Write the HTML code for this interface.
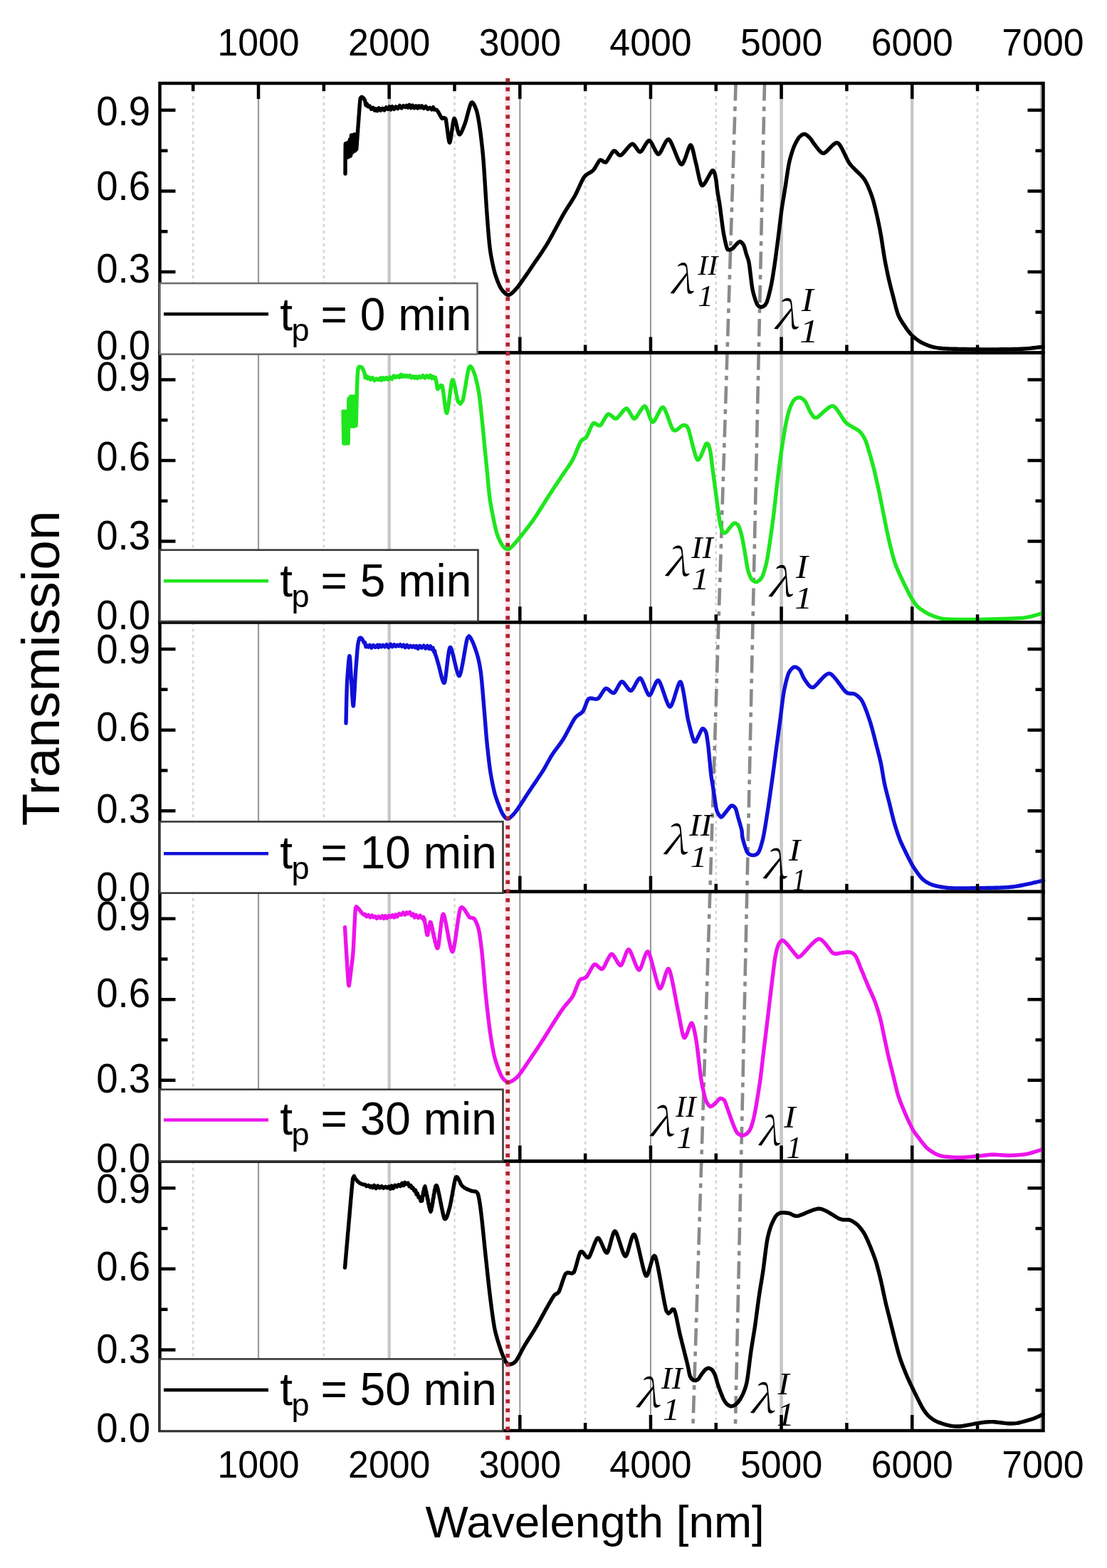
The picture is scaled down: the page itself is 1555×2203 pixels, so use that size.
<!DOCTYPE html>
<html><head><meta charset="utf-8"><title>Transmission spectra</title>
<style>html,body{margin:0;padding:0;background:#fff;}svg{display:block;}</style></head>
<body><svg xmlns="http://www.w3.org/2000/svg" width="1555" height="2203" viewBox="0 0 1555 2203">
<rect width="1555" height="2203" fill="#fff"/>
<line x1="713.2" y1="109" x2="713.2" y2="2024" stroke="#ffe6ea" stroke-width="8.5"/>
<path d="M271.22,117V495.6M454.86,117V495.6M638.5,117V495.6M822.14,117V495.6M1005.78,117V495.6M1189.42,117V495.6M1373.06,117V495.6M271.22,495.6V874.2M454.86,495.6V874.2M638.5,495.6V874.2M822.14,495.6V874.2M1005.78,495.6V874.2M1189.42,495.6V874.2M1373.06,495.6V874.2M271.22,874.2V1252.8M454.86,874.2V1252.8M638.5,874.2V1252.8M822.14,874.2V1252.8M1005.78,874.2V1252.8M1189.42,874.2V1252.8M1373.06,874.2V1252.8M271.22,1252.8V1631.4M454.86,1252.8V1631.4M638.5,1252.8V1631.4M822.14,1252.8V1631.4M1005.78,1252.8V1631.4M1189.42,1252.8V1631.4M1373.06,1252.8V1631.4M271.22,1631.4V2010M454.86,1631.4V2010M638.5,1631.4V2010M822.14,1631.4V2010M1005.78,1631.4V2010M1189.42,1631.4V2010M1373.06,1631.4V2010" stroke="#d4d4d4" stroke-width="2.6" stroke-dasharray="4 5" fill="none"/>
<line x1="363.04" y1="117.0" x2="363.04" y2="2010" stroke="#9a9a9a" stroke-width="2.2"/>
<line x1="546.68" y1="117.0" x2="546.68" y2="2010" stroke="#c6c6c6" stroke-width="4.2"/>
<line x1="730.32" y1="117.0" x2="730.32" y2="2010" stroke="#969696" stroke-width="2.0"/>
<line x1="913.96" y1="117.0" x2="913.96" y2="2010" stroke="#969696" stroke-width="2.0"/>
<line x1="1097.6" y1="117.0" x2="1097.6" y2="2010" stroke="#c6c6c6" stroke-width="4.5"/>
<line x1="1281.24" y1="117.0" x2="1281.24" y2="2010" stroke="#c6c6c6" stroke-width="4.2"/>
<line x1="1462.4" y1="117.0" x2="1462.4" y2="2010" stroke="#b8b8b8" stroke-width="3.0"/>
<line x1="1033.6" y1="117.0" x2="973.2" y2="2010" stroke="#8a8a8a" stroke-width="4.6" stroke-dasharray="24.5 8.2 6.4 8.2"/>
<line x1="1074.0" y1="117.0" x2="1032.8" y2="2010" stroke="#8a8a8a" stroke-width="4.6" stroke-dasharray="24.5 8.2 6.4 8.2"/>
<path d="M485,244 485.01,242.89 485.01,241.38 485.02,239.51 485.03,237.33 485.04,234.89 485.05,232.25 485.06,229.45 485.07,226.55 485.08,223.59 485.1,220.62 485.11,217.7 485.13,214.87 485.15,212.19 485.17,209.71 485.19,207.47 485.22,205.53 485.24,203.94 485.27,202.75 485.3,202 485.4,201.86 485.53,203.48 485.69,206.32 485.87,209.85 486.04,213.52 486.22,216.79 486.37,219.13 486.5,220 486.62,219.14 486.74,216.96 486.88,213.89 487.01,210.4 487.14,206.92 487.27,203.89 487.39,201.77 487.5,201 487.6,201.73 487.7,203.59 487.82,206.27 487.94,209.44 488.06,212.76 488.18,215.9 488.3,218.55 488.4,220.35 488.5,221 488.6,220.25 488.7,218.31 488.82,215.53 488.94,212.23 489.06,208.77 489.18,205.47 489.3,202.69 489.4,200.75 489.5,200 489.6,200.67 489.7,202.53 489.82,205.24 489.94,208.46 490.06,211.84 490.18,215.02 490.3,217.68 490.4,219.45 490.5,220 490.59,219.2 490.68,217.31 490.78,214.61 490.89,211.36 491,207.85 491.11,204.35 491.22,201.14 491.32,198.5 491.41,196.69 491.5,196 491.59,196.63 491.68,198.42 491.78,201.06 491.89,204.27 492,207.75 492.11,211.21 492.22,214.36 492.32,216.9 492.41,218.55 492.5,219 492.56,218.36 492.64,216.92 492.71,214.82 492.79,212.2 492.87,209.23 492.96,206.03 493.04,202.77 493.13,199.58 493.21,196.63 493.29,194.04 493.36,191.98 493.44,190.58 493.5,190 493.58,190.46 493.66,191.98 493.75,194.33 493.85,197.28 493.95,200.58 494.05,204.02 494.15,207.35 494.25,210.35 494.34,212.78 494.42,214.41 494.5,215 494.58,214.42 494.66,212.84 494.75,210.48 494.85,207.55 494.95,204.29 495.05,200.91 495.15,197.63 495.25,194.68 495.34,192.28 495.42,190.64 495.5,190 495.59,190.58 495.68,192.3 495.78,194.88 495.89,198.02 496,201.45 496.11,204.88 496.22,208.04 496.32,210.63 496.41,212.38 496.5,213 496.59,212.3 496.68,210.47 496.78,207.78 496.89,204.53 497,201 497.11,197.47 497.22,194.22 497.32,191.53 497.41,189.7 497.5,189 497.59,189.61 497.68,191.34 497.78,193.91 497.89,197.04 498,200.45 498.11,203.87 498.22,207.01 498.32,209.6 498.41,211.35 498.5,212 498.59,211.36 498.68,209.63 498.78,207.08 498.89,203.98 499,200.6 499.11,197.21 499.22,194.09 499.32,191.49 499.41,189.71 499.5,189 499.59,189.64 499.7,191.5 499.8,194.24 499.92,197.52 500.03,200.99 500.15,204.32 500.27,207.16 500.39,209.17 500.5,210 500.64,209.6 500.81,208.26 500.99,206.17 501.19,203.55 501.4,200.61 501.6,197.57 501.81,194.63 502,192 502.12,190.35 502.27,188.41 502.43,186.21 502.6,183.81 502.78,181.27 502.97,178.64 503.17,175.96 503.36,173.3 503.55,170.7 503.73,168.22 503.9,165.91 504.06,163.82 504.2,162 504.38,159.67 504.57,157.06 504.77,154.27 504.98,151.4 505.2,148.55 505.42,145.81 505.64,143.29 505.87,141.08 506.08,139.29 506.3,138 507.88,136.15 509.5,137 510.81,138.15 512,140 512.51,140.79 514,147.83 515.27,145.88 517.06,149.78 519.21,148.95 521.58,153.27 523.99,151.39 526.3,155.13 527.96,152.77 529.97,155.7 532.24,151.91 534.7,155.13 537.26,152.25 539.85,154.79 542.39,150.97 544.8,153.3 547,149.94 548.87,153.98 551.05,149.67 553.47,153.37 556.06,149.9 558.74,152.53 561.45,148.41 564.12,151.9 566.66,148.56 569.02,150.56 571.13,148.26 572.9,151.1 575.13,147.4 577.42,151.65 579.75,148.21 582.08,151.74 584.36,148.86 586.57,152.02 588.66,148.81 590.6,151.18 592.72,148.94 595.27,152.26 598.06,149.37 600.95,153.34 603.75,151.35 606.31,153.79 608.45,150.71 610,154.04 613,154.09 614.7,156 615.79,157.66 617.16,160.11 618.62,162.78 620,165.13 621.1,166.6 623.59,165.44 626,166.6 626.3,167.82 626.62,169.6 626.97,171.85 627.33,174.47 627.72,177.37 628.12,180.44 628.52,183.61 628.93,186.76 629.34,189.8 629.75,192.64 630.15,195.18 630.54,197.32 630.91,198.97 631.27,200.03 631.6,200.4 631.94,199.99 632.31,198.83 632.71,197.03 633.13,194.71 633.57,191.97 634.02,188.94 634.49,185.72 634.95,182.42 635.42,179.15 635.89,176.04 636.35,173.18 636.79,170.7 637.22,168.7 637.62,167.3 638,166.6 638.59,166.83 639.25,168.26 639.97,170.61 640.73,173.58 641.51,176.91 642.31,180.31 643.09,183.5 643.84,186.2 644.55,188.12 645.2,189 646.04,188.8 647.01,187.7 648.07,185.89 649.17,183.56 650.28,180.92 651.37,178.15 652.39,175.44 653.3,173 653.86,171.37 654.48,169.32 655.15,166.93 655.86,164.29 656.6,161.49 657.36,158.62 658.12,155.77 658.87,153.03 659.61,150.49 660.31,148.23 660.97,146.36 661.57,144.95 662.1,144.1 663.27,143.78 664.59,144.89 665.95,147.03 667.27,149.76 668.45,152.69 669.4,155.4 669.85,156.9 670.3,158.68 670.77,160.71 671.23,162.94 671.7,165.34 672.15,167.87 672.6,170.48 673.03,173.14 673.45,175.8 673.84,178.44 674.2,181 674.41,182.53 674.63,184.2 674.87,186 675.12,187.93 675.37,189.97 675.63,192.1 675.9,194.33 676.18,196.64 676.45,199.03 676.73,201.47 677,203.96 677.28,206.49 677.55,209.06 677.81,211.64 678.07,214.23 678.32,216.83 678.56,219.41 678.79,221.97 679,224.5 679.17,226.63 679.35,229.01 679.54,231.63 679.74,234.47 679.94,237.5 680.16,240.69 680.38,244.03 680.6,247.49 680.83,251.04 681.06,254.67 681.29,258.36 681.52,262.06 681.75,265.78 681.98,269.47 682.21,273.13 682.44,276.72 682.66,280.22 682.87,283.61 683.08,286.86 683.29,289.96 683.48,292.87 683.66,295.58 683.84,298.07 684,300.3 684.17,302.62 684.35,305.01 684.53,307.44 684.72,309.91 684.91,312.41 685.11,314.94 685.31,317.48 685.51,320.01 685.71,322.55 685.91,325.06 686.12,327.55 686.33,330 686.54,332.41 686.75,334.77 686.96,337.06 687.17,339.27 687.37,341.41 687.58,343.45 687.79,345.39 688,347.22 688.2,348.92 688.4,350.5 688.71,352.76 689.07,355.08 689.45,357.46 689.87,359.87 690.31,362.3 690.77,364.73 691.24,367.13 691.73,369.49 692.22,371.79 692.71,374.01 693.19,376.14 693.67,378.15 694.13,380.03 694.58,381.75 695,383.3 695.67,385.57 696.44,387.98 697.29,390.46 698.2,392.97 699.14,395.43 700.11,397.8 701.07,400.02 702,402.03 702.88,403.78 703.7,405.2 705.17,407.34 706.93,409.49 708.85,411.45 710.81,413.05 712.7,414.1 714.4,414.4 715.85,414 717.48,413.08 719.27,411.7 721.17,409.95 723.15,407.9 725.17,405.63 727.2,403.2 728.11,402.05 729.15,400.68 730.32,399.1 731.59,397.34 732.94,395.43 734.37,393.41 735.85,391.29 737.36,389.1 738.89,386.87 740.42,384.64 741.94,382.42 743.42,380.25 744.85,378.14 746.21,376.14 747.48,374.26 748.65,372.54 749.7,371 750.85,369.33 752.05,367.57 753.31,365.75 754.61,363.86 755.94,361.93 757.3,359.95 758.66,357.95 760.04,355.93 761.4,353.89 762.76,351.85 764.09,349.83 765.39,347.82 766.65,345.84 767.85,343.89 769,342 769.84,340.58 770.75,338.99 771.73,337.26 772.77,335.4 773.86,333.42 775,331.35 776.17,329.21 777.36,327 778.57,324.76 779.8,322.49 781.02,320.21 782.24,317.95 783.44,315.71 784.62,313.53 785.76,311.4 786.87,309.36 787.93,307.42 788.93,305.59 789.86,303.9 790.72,302.37 791.5,301 792.72,298.92 793.99,296.81 795.31,294.68 796.65,292.55 798.01,290.42 799.36,288.31 800.7,286.22 802,284.18 803.27,282.19 804.47,280.27 805.61,278.42 806.65,276.66 807.6,275 808.52,273.27 809.49,271.32 810.51,269.19 811.55,266.94 812.61,264.62 813.68,262.26 814.75,259.91 815.8,257.63 816.83,255.46 817.83,253.44 818.78,251.63 819.67,250.07 820.5,248.8 822.13,246.93 824.01,245.37 826.03,244.03 828.08,242.82 830.05,241.67 831.83,240.49 833.3,239.2 834.66,237.46 836.12,235.18 837.63,232.61 839.14,230.02 840.57,227.67 841.88,225.8 843,224.7 845.55,225.27 848.31,227.57 851,228 852.11,226.87 853.46,224.95 854.97,222.5 856.57,219.8 858.18,217.11 859.72,214.72 861.12,212.89 862.3,211.9 864.04,212.19 865.9,213.97 867.84,216.23 869.85,218.01 871.9,218.3 873.08,217.55 874.54,216.19 876.2,214.37 878,212.26 879.87,210.01 881.74,207.77 883.56,205.72 885.25,204 886.75,202.77 888,202.2 889.61,202.66 891.28,204.27 892.97,206.58 894.65,209.12 896.29,211.43 897.85,213.04 899.3,213.5 900.47,212.77 901.82,211.16 903.29,208.95 904.83,206.38 906.41,203.73 907.97,201.24 909.47,199.19 910.86,197.82 912.1,197.4 913.2,198.05 914.41,199.59 915.71,201.8 917.07,204.44 918.46,207.29 919.87,210.12 921.25,212.71 922.58,214.82 923.84,216.22 925,216.7 926.06,216.12 927.25,214.64 928.53,212.48 929.89,209.84 931.3,206.94 932.73,203.98 934.17,201.18 935.59,198.75 936.97,196.9 938.28,195.85 939.5,195.8 940.3,196.44 941.2,197.64 942.17,199.32 943.21,201.4 944.31,203.81 945.44,206.48 946.61,209.33 947.79,212.28 948.97,215.26 950.15,218.19 951.3,221 952.42,223.62 953.5,225.96 954.52,227.95 955.47,229.53 956.33,230.6 957.1,231.1 958.07,230.85 959.1,229.73 960.18,227.88 961.28,225.46 962.39,222.63 963.5,219.55 964.6,216.36 965.67,213.22 966.68,210.3 967.64,207.74 968.52,205.7 969.31,204.33 970,203.8 970.74,204.15 971.47,205.28 972.2,207.05 972.91,209.33 973.61,212.01 974.3,214.94 974.98,218 975.64,221.07 976.28,224.01 976.9,226.7 977.5,229 977.98,230.84 978.5,233.07 979.05,235.6 979.63,238.36 980.23,241.26 980.86,244.22 981.5,247.17 982.16,250.02 982.83,252.7 983.5,255.13 984.18,257.22 984.86,258.9 985.53,260.09 986.2,260.7 987.18,260.56 988.39,259.49 989.77,257.69 991.28,255.34 992.86,252.63 994.45,249.76 996,246.91 997.46,244.27 998.76,242.03 999.86,240.37 1000.7,239.5 1002.34,239.81 1003.55,242.29 1004.46,245.77 1005.2,249.1 1005.54,250.8 1005.88,252.96 1006.2,255.45 1006.51,258.12 1006.82,260.86 1007.12,263.52 1007.41,265.98 1007.7,268.1 1008.02,270.17 1008.41,272.51 1008.85,275.03 1009.3,277.64 1009.75,280.26 1010.19,282.78 1010.58,285.13 1010.9,287.2 1011.2,289.27 1011.52,291.62 1011.85,294.14 1012.18,296.75 1012.51,299.36 1012.83,301.88 1013.13,304.23 1013.4,306.3 1013.68,308.39 1013.98,310.78 1014.32,313.35 1014.66,316.01 1015.02,318.65 1015.36,321.16 1015.69,323.45 1016,325.4 1016.38,327.57 1016.83,330 1017.32,332.55 1017.83,335.09 1018.33,337.48 1018.8,339.6 1019.2,341.3 1019.86,344.06 1020.59,346.91 1021.4,349.33 1022.3,350.8 1025.37,350.94 1028.7,349.5 1030.57,347.72 1032.64,345.21 1034.4,343.2 1036.98,340.68 1039.5,339.3 1041.16,340.17 1043.05,342.06 1044.6,344.4 1045.22,345.93 1045.89,347.99 1046.56,350.36 1047.23,352.82 1047.85,355.14 1048.4,357.1 1048.95,358.77 1049.58,360.46 1050.25,362.29 1050.92,364.39 1051.59,366.89 1052.2,369.9 1052.43,371.32 1052.68,373.07 1052.95,375.1 1053.24,377.37 1053.54,379.84 1053.86,382.45 1054.18,385.16 1054.51,387.94 1054.84,390.72 1055.18,393.47 1055.52,396.15 1055.85,398.7 1056.18,401.09 1056.5,403.27 1056.81,405.18 1057.1,406.8 1057.61,409.18 1058.21,411.65 1058.87,414.15 1059.58,416.63 1060.32,419.03 1061.06,421.29 1061.79,423.37 1062.48,425.2 1063.13,426.73 1063.7,427.9 1065.81,430.28 1068.2,431.22 1070.3,431.2 1072.37,430.43 1074.73,428.58 1076.8,425.3 1077.31,423.96 1077.88,422.24 1078.5,420.21 1079.15,417.92 1079.82,415.44 1080.5,412.84 1081.16,410.18 1081.79,407.54 1082.39,404.96 1082.93,402.53 1083.4,400.3 1083.73,398.66 1084.07,396.83 1084.43,394.84 1084.79,392.72 1085.17,390.48 1085.55,388.16 1085.93,385.78 1086.31,383.36 1086.69,380.93 1087.06,378.5 1087.42,376.12 1087.76,373.79 1088.1,371.54 1088.41,369.4 1088.7,367.4 1088.94,365.7 1089.21,363.82 1089.49,361.79 1089.78,359.63 1090.08,357.37 1090.4,355.01 1090.72,352.6 1091.04,350.13 1091.37,347.65 1091.69,345.17 1092.01,342.7 1092.32,340.29 1092.62,337.93 1092.91,335.67 1093.19,333.51 1093.44,331.48 1093.68,329.6 1093.9,327.9 1094.15,325.91 1094.41,323.81 1094.67,321.61 1094.94,319.35 1095.21,317.03 1095.48,314.68 1095.76,312.31 1096.03,309.94 1096.31,307.59 1096.58,305.28 1096.86,303.04 1097.13,300.86 1097.39,298.79 1097.65,296.83 1097.9,295 1098.17,293.16 1098.47,291.17 1098.79,289.05 1099.14,286.83 1099.51,284.52 1099.9,282.16 1100.29,279.76 1100.69,277.34 1101.09,274.94 1101.48,272.58 1101.86,270.27 1102.23,268.05 1102.58,265.93 1102.9,263.94 1103.2,262.1 1103.49,260.24 1103.8,258.21 1104.13,256.02 1104.47,253.71 1104.82,251.31 1105.18,248.85 1105.55,246.37 1105.92,243.89 1106.29,241.44 1106.66,239.06 1107.03,236.77 1107.39,234.61 1107.74,232.61 1108.08,230.79 1108.4,229.2 1108.91,226.91 1109.5,224.51 1110.15,222.04 1110.85,219.54 1111.57,217.08 1112.29,214.68 1113.02,212.41 1113.72,210.31 1114.39,208.42 1115,206.8 1115.94,204.59 1117.04,202.23 1118.26,199.84 1119.51,197.55 1120.75,195.47 1121.9,193.71 1122.9,192.4 1124.73,190.69 1126.85,189.35 1128.97,188.53 1130.8,188.4 1132.68,189.32 1134.89,191.13 1137.04,193.24 1138.7,195 1139.87,196.54 1140.94,198.32 1142.14,200.27 1143.7,202.3 1144.78,203.65 1146.15,205.53 1147.75,207.7 1149.51,209.96 1151.37,212.07 1153.25,213.83 1155.08,215.01 1156.8,215.4 1158.13,214.96 1159.72,213.87 1161.49,212.28 1163.41,210.36 1165.43,208.26 1167.48,206.13 1169.52,204.13 1171.49,202.42 1173.35,201.16 1175.03,200.5 1176.5,200.6 1177.51,201.23 1178.57,202.3 1179.68,203.75 1180.83,205.53 1182,207.57 1183.2,209.83 1184.41,212.23 1185.62,214.73 1186.83,217.27 1188.03,219.78 1189.22,222.22 1190.37,224.51 1191.49,226.61 1192.57,228.46 1193.6,230 1194.86,231.6 1196.3,233.26 1197.89,234.97 1199.6,236.7 1201.38,238.46 1203.2,240.22 1205.02,241.97 1206.81,243.71 1208.53,245.42 1210.15,247.08 1211.62,248.69 1212.92,250.23 1214,251.7 1215.05,253.35 1216.09,255.19 1217.13,257.18 1218.16,259.3 1219.16,261.49 1220.13,263.74 1221.06,266 1221.95,268.23 1222.79,270.4 1223.56,272.48 1224.27,274.42 1224.9,276.2 1225.5,277.99 1226.11,279.96 1226.73,282.09 1227.35,284.33 1227.96,286.65 1228.57,289.02 1229.16,291.39 1229.73,293.73 1230.28,296.01 1230.79,298.19 1231.27,300.23 1231.7,302.1 1232.12,303.97 1232.58,306.01 1233.05,308.19 1233.53,310.49 1234.02,312.86 1234.52,315.3 1235.01,317.75 1235.49,320.19 1235.96,322.6 1236.4,324.94 1236.82,327.19 1237.2,329.3 1237.5,331.05 1237.83,333.03 1238.18,335.18 1238.55,337.5 1238.92,339.93 1239.31,342.44 1239.7,345 1240.1,347.59 1240.49,350.15 1240.88,352.67 1241.25,355.1 1241.62,357.41 1241.97,359.57 1242.3,361.54 1242.6,363.3 1242.98,365.42 1243.4,367.66 1243.84,369.99 1244.31,372.4 1244.79,374.84 1245.28,377.29 1245.78,379.72 1246.27,382.11 1246.75,384.42 1247.22,386.62 1247.68,388.69 1248.1,390.6 1248.54,392.53 1249.05,394.66 1249.6,396.95 1250.19,399.35 1250.8,401.83 1251.43,404.34 1252.07,406.84 1252.7,409.3 1253.3,411.66 1253.88,413.9 1254.42,415.96 1254.9,417.8 1255.42,419.8 1255.98,422.01 1256.57,424.37 1257.2,426.83 1257.84,429.34 1258.49,431.84 1259.15,434.27 1259.81,436.59 1260.46,438.74 1261.09,440.66 1261.7,442.3 1262.63,444.41 1263.75,446.61 1264.99,448.84 1266.32,451.06 1267.65,453.2 1268.95,455.21 1270.15,457.03 1271.2,458.6 1272.37,460.33 1273.68,462.2 1275.09,464.13 1276.54,466.04 1277.99,467.86 1279.39,469.5 1280.7,470.9 1282.1,472.23 1283.74,473.67 1285.56,475.18 1287.47,476.66 1289.4,478.07 1291.27,479.34 1293,480.4 1294.59,481.26 1296.47,482.2 1298.54,483.17 1300.74,484.14 1303,485.06 1305.22,485.91 1307.35,486.63 1309.3,487.2 1310.95,487.61 1312.66,487.99 1314.48,488.35 1316.44,488.68 1318.57,488.99 1320.93,489.26 1323.54,489.51 1326.45,489.72 1329.7,489.9 1331.1,489.96 1332.71,490.02 1334.51,490.08 1336.49,490.14 1338.63,490.2 1340.91,490.26 1343.32,490.31 1345.83,490.37 1348.43,490.42 1351.11,490.47 1353.84,490.52 1356.61,490.57 1359.4,490.61 1362.19,490.66 1364.97,490.7 1367.71,490.73 1370.4,490.77 1373.03,490.8 1375.57,490.82 1378.01,490.85 1380.33,490.87 1382.51,490.88 1384.54,490.89 1386.4,490.9 1388.39,490.9 1390.5,490.9 1392.72,490.9 1395.03,490.89 1397.41,490.88 1399.86,490.86 1402.36,490.84 1404.89,490.82 1407.43,490.79 1409.98,490.76 1412.52,490.73 1415.04,490.69 1417.52,490.66 1419.94,490.61 1422.29,490.57 1424.56,490.52 1426.73,490.48 1428.79,490.42 1430.72,490.37 1432.51,490.32 1434.14,490.26 1435.6,490.2 1438.39,490.05 1441.24,489.85 1444.1,489.6 1446.93,489.33 1449.67,489.04 1452.29,488.75 1454.73,488.46 1456.95,488.19 1458.9,487.95 1460.53,487.75 1461.8,487.6 1464.71,487.17 1465,487" fill="none" stroke="#000000" stroke-width="5.4" stroke-linejoin="round" stroke-linecap="round"/>
<path d="M482,578 482.02,579.14 482.05,580.72 482.08,582.68 482.12,584.98 482.17,587.56 482.21,590.37 482.26,593.34 482.31,596.43 482.37,599.59 482.43,602.75 482.48,605.87 482.54,608.89 482.6,611.75 482.66,614.41 482.72,616.81 482.78,618.9 482.84,620.61 482.89,621.9 482.95,622.72 483,623 483.05,622.67 483.11,621.74 483.18,620.27 483.25,618.32 483.32,615.97 483.4,613.28 483.47,610.32 483.56,607.16 483.64,603.86 483.73,600.5 483.81,597.14 483.9,593.84 483.98,590.68 484.06,587.72 484.14,585.03 484.22,582.68 484.3,580.73 484.37,579.26 484.44,578.33 484.5,578 484.56,578.33 484.63,579.26 484.7,580.73 484.77,582.68 484.85,585.03 484.92,587.72 485,590.68 485.09,593.84 485.17,597.14 485.25,600.5 485.33,603.86 485.41,607.16 485.5,610.32 485.58,613.28 485.65,615.97 485.73,618.32 485.8,620.27 485.87,621.74 485.94,622.67 486,623 486.06,622.67 486.13,621.74 486.2,620.27 486.27,618.32 486.35,615.97 486.42,613.28 486.5,610.32 486.59,607.16 486.67,603.86 486.75,600.5 486.83,597.14 486.91,593.84 487,590.68 487.08,587.72 487.15,585.03 487.23,582.68 487.3,580.73 487.37,579.26 487.44,578.33 487.5,578 487.56,578.34 487.63,579.32 487.7,580.87 487.78,582.91 487.86,585.37 487.94,588.17 488.02,591.25 488.1,594.53 488.19,597.94 488.27,601.4 488.36,604.84 488.44,608.2 488.53,611.39 488.6,614.34 488.68,616.98 488.75,619.24 488.82,621.05 488.89,622.32 488.95,623 489,623 489.04,622.42 489.08,621.32 489.13,619.74 489.17,617.72 489.22,615.33 489.26,612.59 489.3,609.57 489.35,606.31 489.39,602.86 489.44,599.25 489.48,595.55 489.52,591.8 489.57,588.04 489.61,584.33 489.65,580.71 489.7,577.22 489.74,573.92 489.78,570.86 489.82,568.07 489.86,565.61 489.89,563.53 489.93,561.87 489.97,560.67 490,560 490.05,559.89 490.1,560.63 490.15,562.1 490.21,564.19 490.26,566.8 490.32,569.82 490.38,573.14 490.44,576.66 490.51,580.25 490.57,583.82 490.63,587.26 490.69,590.45 490.76,593.3 490.82,595.68 490.88,597.5 490.94,598.64 491,599 491.06,598.61 491.12,597.6 491.19,596.06 491.26,594.04 491.34,591.63 491.42,588.9 491.5,585.92 491.59,582.76 491.68,579.5 491.77,576.2 491.86,572.94 491.95,569.8 492.04,566.84 492.12,564.13 492.21,561.76 492.29,559.79 492.36,558.29 492.43,557.33 492.5,557 492.57,557.34 492.64,558.3 492.71,559.81 492.79,561.8 492.87,564.19 492.95,566.92 493.03,569.9 493.12,573.07 493.21,576.34 493.29,579.66 493.38,582.93 493.47,586.1 493.55,589.08 493.63,591.81 493.71,594.2 493.79,596.19 493.86,597.7 493.93,598.66 494,599 494.07,598.66 494.14,597.7 494.21,596.19 494.29,594.2 494.37,591.81 494.45,589.08 494.53,586.1 494.62,582.93 494.71,579.66 494.79,576.34 494.88,573.07 494.97,569.9 495.05,566.92 495.13,564.19 495.21,561.8 495.29,559.81 495.36,558.3 495.43,557.34 495.5,557 495.57,557.34 495.64,558.3 495.71,559.81 495.79,561.8 495.87,564.19 495.95,566.92 496.03,569.9 496.12,573.07 496.21,576.34 496.29,579.66 496.38,582.93 496.47,586.1 496.55,589.08 496.63,591.81 496.71,594.2 496.79,596.19 496.86,597.7 496.93,598.66 497,599 497.07,598.66 497.14,597.71 497.21,596.2 497.29,594.21 497.37,591.83 497.45,589.11 497.53,586.13 497.62,582.97 497.71,579.7 497.79,576.4 497.88,573.12 497.97,569.96 498.05,566.98 498.13,564.25 498.21,561.85 498.29,559.86 498.36,558.33 498.43,557.36 498.5,557 498.57,557.36 498.64,558.42 498.72,560.1 498.8,562.3 498.89,564.94 498.98,567.93 499.07,571.16 499.16,574.57 499.25,578.05 499.34,581.52 499.43,584.88 499.52,588.05 499.61,590.94 499.7,593.46 499.78,595.51 499.86,597.01 499.93,597.87 500,598 500.05,597.6 500.11,596.82 500.16,595.7 500.22,594.26 500.28,592.53 500.35,590.54 500.41,588.33 500.48,585.92 500.54,583.34 500.61,580.62 500.68,577.8 500.75,574.9 500.82,571.95 500.89,568.99 500.96,566.04 501.02,563.13 501.09,560.29 501.15,557.56 501.22,554.96 501.28,552.52 501.34,550.27 501.39,548.25 501.45,546.48 501.5,545 501.6,542.3 501.71,539.57 501.82,536.83 501.93,534.13 502.05,531.5 502.17,528.97 502.3,526.59 502.43,524.38 502.57,522.38 502.71,520.62 502.85,519.15 503,518 504.43,515.33 506,515.5 507.5,515.77 509,517 509.96,518.92 511.04,521.64 512,524 512.47,525.35 513.08,530.65 515,528.66 516.4,532.02 518.3,530.02 520.6,533.26 523.19,530.66 525.96,534.55 528.81,532.11 531.62,533.74 534.3,531.05 535.95,534.2 537.91,530.81 540.13,532.98 542.56,530.59 545.15,533.26 547.83,530.01 550.57,532.64 553.29,527.98 555.96,530.26 558.51,528.41 560.89,530.21 563.05,526.28 564.94,529.39 566.5,527.01 569.11,529.28 571.47,527.46 573.67,529.52 575.8,527.61 577.92,530.81 580.13,528.74 582.5,531.02 584.17,529.04 586.24,531.37 588.62,528.8 591.22,530.48 593.96,527.71 596.76,531.06 599.53,527.82 602.17,530.41 604.62,527.35 606.78,531.7 608.57,529.19 609.9,531.67 611.44,530.24 612.47,534.4 613.12,537.29 613.54,540.33 613.85,543.14 614.19,545.35 614.7,546.6 616.64,545.02 619.01,541.38 621.1,541.8 621.41,542.9 621.75,544.55 622.1,546.68 622.47,549.2 622.86,552.03 623.25,555.09 623.66,558.29 624.06,561.56 624.48,564.81 624.89,567.96 625.3,570.93 625.71,573.64 626.11,576.01 626.5,577.95 626.88,579.38 627.25,580.23 627.6,580.4 627.89,579.97 628.2,579.02 628.54,577.6 628.9,575.76 629.27,573.57 629.66,571.07 630.06,568.32 630.47,565.38 630.89,562.29 631.31,559.11 631.74,555.9 632.16,552.71 632.59,549.59 633.01,546.6 633.42,543.79 633.82,541.22 634.21,538.94 634.59,537 634.94,535.46 635.28,534.38 635.6,533.8 636.08,533.79 636.61,534.61 637.18,536.13 637.78,538.23 638.4,540.79 639.04,543.69 639.68,546.8 640.32,550 640.94,553.17 641.55,556.19 642.12,558.94 642.66,561.28 643.16,563.11 643.6,564.3 646.75,567.36 650,562.7 650.31,561.59 650.65,560.14 651.02,558.37 651.42,556.32 651.84,554.03 652.28,551.55 652.74,548.91 653.21,546.14 653.68,543.28 654.17,540.38 654.65,537.46 655.14,534.58 655.62,531.76 656.09,529.04 656.55,526.47 657,524.07 657.43,521.89 657.84,519.96 658.22,518.33 658.58,517.03 658.9,516.1 660.67,514.52 662.62,516.4 664.51,520.14 666.1,524.1 666.58,525.45 667.11,527.11 667.67,529.05 668.26,531.21 668.86,533.55 669.47,536.03 670.06,538.61 670.65,541.24 671.2,543.88 671.72,546.48 672.19,549 672.6,551.4 672.85,552.97 673.1,554.74 673.37,556.69 673.64,558.79 673.92,561.02 674.2,563.36 674.49,565.79 674.77,568.28 675.06,570.82 675.34,573.38 675.62,575.94 675.89,578.47 676.16,580.96 676.41,583.38 676.66,585.71 676.89,587.93 677.11,590.02 677.31,591.95 677.5,593.7 677.71,595.74 677.94,597.91 678.16,600.18 678.4,602.55 678.63,604.98 678.87,607.46 679.11,609.96 679.35,612.47 679.58,614.95 679.81,617.39 680.03,619.77 680.25,622.07 680.45,624.27 680.65,626.33 680.83,628.25 681,630 681.2,632.08 681.42,634.25 681.64,636.48 681.87,638.77 682.1,641.1 682.34,643.47 682.57,645.86 682.82,648.26 683.06,650.65 683.3,653.04 683.53,655.4 683.77,657.72 684,660 684.16,661.64 684.33,663.45 684.52,665.43 684.71,667.55 684.91,669.79 685.12,672.13 685.33,674.56 685.56,677.05 685.79,679.59 686.03,682.15 686.28,684.71 686.53,687.26 686.78,689.78 687.04,692.25 687.31,694.64 687.58,696.94 687.85,699.13 688.12,701.19 688.4,703.1 688.69,704.92 689.01,706.91 689.37,709.03 689.77,711.28 690.19,713.62 690.64,716.05 691.1,718.53 691.59,721.05 692.08,723.59 692.58,726.12 693.09,728.63 693.6,731.1 694.11,733.5 694.6,735.82 695.09,738.03 695.56,740.12 696.01,742.06 696.43,743.83 696.83,745.42 697.2,746.8 698.04,749.59 698.97,752.32 699.98,754.93 701.03,757.41 702.1,759.71 703.14,761.81 704.15,763.66 705.07,765.24 705.9,766.5 707.8,768.82 709.94,770.62 712.2,771.62 714.4,771.5 715.57,770.88 716.94,769.84 718.46,768.46 720.1,766.8 721.83,764.93 723.61,762.9 725.42,760.81 727.2,758.7 728.16,757.55 729.27,756.21 730.51,754.69 731.86,753.02 733.29,751.23 734.8,749.34 736.36,747.36 737.96,745.32 739.57,743.26 741.18,741.17 742.76,739.1 744.31,737.06 745.79,735.08 747.2,733.18 748.51,731.38 749.7,729.7 750.69,728.27 751.75,726.7 752.88,725 754.07,723.19 755.3,721.29 756.56,719.32 757.86,717.28 759.18,715.21 760.5,713.1 761.83,711 763.15,708.89 764.45,706.82 765.72,704.78 766.96,702.81 768.15,700.91 769.29,699.1 770.37,697.4 771.38,695.83 772.3,694.4 773.46,692.62 774.71,690.71 776.03,688.71 777.4,686.63 778.8,684.5 780.23,682.34 781.67,680.18 783.1,678.03 784.5,675.92 785.86,673.88 787.16,671.92 788.39,670.07 789.54,668.35 790.58,666.78 791.5,665.4 792.81,663.46 794.18,661.5 795.56,659.53 796.96,657.55 798.35,655.59 799.7,653.63 801,651.7 802.23,649.79 803.37,647.92 804.4,646.1 805.25,644.42 806.18,642.41 807.16,640.16 808.19,637.72 809.24,635.18 810.29,632.61 811.34,630.06 812.34,627.63 813.3,625.38 814.19,623.37 815,621.69 815.7,620.4 817.71,618.08 819.78,616.88 821.82,615.84 823.7,614 824.56,612.51 825.56,610.43 826.66,607.95 827.82,605.25 829.01,602.5 830.19,599.9 831.32,597.61 832.37,595.81 833.3,594.7 835.51,594.54 838.07,596.14 840.67,597.82 843,597.9 844.16,596.77 845.5,594.84 846.98,592.39 848.52,589.69 850.07,587.01 851.58,584.62 852.97,582.79 854.2,581.8 856.2,582.07 858.48,583.8 860.9,586.04 863.29,587.82 865.5,588.2 866.79,587.43 868.32,585.95 870.03,583.99 871.83,581.76 873.68,579.45 875.48,577.3 877.18,575.49 878.71,574.26 880,573.8 881.32,574.44 882.71,576.11 884.15,578.47 885.6,581.16 887.05,583.83 888.49,586.13 889.88,587.7 891.2,588.2 892.35,587.59 893.69,586.14 895.19,584.09 896.79,581.63 898.45,579 900.1,576.39 901.7,574.03 903.2,572.14 904.55,570.92 905.7,570.6 906.66,571.27 907.66,572.78 908.7,574.96 909.75,577.6 910.82,580.51 911.89,583.51 912.96,586.41 914.01,589.01 915.04,591.11 916.04,592.54 917,593.1 918.02,592.63 919.19,591.24 920.49,589.13 921.87,586.54 923.31,583.65 924.77,580.7 926.24,577.88 927.66,575.4 929.02,573.49 930.27,572.35 931.4,572.2 932.16,572.77 932.98,573.87 933.86,575.42 934.78,577.36 935.74,579.62 936.72,582.11 937.72,584.77 938.73,587.52 939.74,590.3 940.73,593.03 941.7,595.64 942.64,598.05 943.54,600.19 944.39,602 945.18,603.39 945.9,604.3 947.92,605.04 950.22,604.23 952.63,602.5 954.96,600.46 957.05,598.72 958.7,597.9 960.71,597.51 962.63,597.44 964.57,598.62 966.6,602 967.05,603.16 967.55,604.71 968.11,606.59 968.71,608.75 969.35,611.16 970.02,613.77 970.71,616.54 971.43,619.41 972.17,622.34 972.91,625.29 973.67,628.22 974.41,631.08 975.16,633.81 975.89,636.39 976.6,638.75 977.29,640.87 977.95,642.69 978.58,644.16 979.16,645.25 979.7,645.9 980.71,646.05 981.86,645.09 983.1,643.26 984.41,640.77 985.74,637.83 987.06,634.66 988.34,631.49 989.54,628.53 990.62,626 991.55,624.12 992.3,623.1 993.92,623.09 995.28,625.22 996.4,628.46 997.3,631.8 997.62,633.24 997.95,635.07 998.27,637.2 998.59,639.56 998.9,642.04 999.21,644.59 999.51,647.1 999.79,649.49 1000.05,651.69 1000.3,653.6 1000.58,655.69 1000.89,658.03 1001.23,660.55 1001.58,663.17 1001.93,665.84 1002.28,668.46 1002.61,670.98 1002.92,673.32 1003.2,675.4 1003.48,677.48 1003.79,679.81 1004.12,682.31 1004.47,684.93 1004.83,687.57 1005.18,690.19 1005.51,692.69 1005.82,695.02 1006.1,697.1 1006.38,699.2 1006.69,701.58 1007.02,704.14 1007.37,706.82 1007.73,709.52 1008.08,712.17 1008.41,714.67 1008.72,716.94 1009,718.9 1009.31,721.05 1009.66,723.45 1010.03,725.98 1010.41,728.55 1010.81,731.04 1011.19,733.37 1011.56,735.42 1011.9,737.1 1012.5,739.58 1013.23,742.19 1014.02,744.65 1014.8,746.68 1015.5,748 1017.59,748.91 1019.9,748 1021.16,746.69 1022.73,744.64 1024.33,742.44 1025.7,740.7 1027.55,738.49 1029.65,736.15 1031.5,734.9 1033.39,735.21 1035.54,736.51 1037.3,738.5 1038.01,739.95 1038.78,741.95 1039.56,744.31 1040.31,746.83 1041,749.33 1041.6,751.6 1042.02,753.33 1042.46,755.33 1042.93,757.55 1043.4,759.93 1043.89,762.42 1044.37,764.97 1044.84,767.51 1045.3,770 1045.58,771.57 1045.89,773.44 1046.23,775.56 1046.6,777.88 1047,780.35 1047.4,782.91 1047.82,785.51 1048.24,788.1 1048.66,790.63 1049.06,793.05 1049.46,795.29 1049.83,797.32 1050.18,799.07 1050.5,800.5 1051.27,803.34 1052.14,806.01 1053.08,808.43 1054.03,810.56 1054.95,812.34 1055.8,813.7 1057.79,815.8 1060.18,817.26 1062.4,817.6 1064.18,816.93 1066.36,815.55 1068.53,813.53 1070.3,811 1070.98,809.55 1071.71,807.69 1072.49,805.52 1073.28,803.09 1074.07,800.5 1074.84,797.82 1075.57,795.12 1076.23,792.49 1076.8,790 1077.12,788.45 1077.46,786.69 1077.82,784.75 1078.19,782.65 1078.56,780.42 1078.94,778.09 1079.32,775.69 1079.7,773.25 1080.08,770.78 1080.45,768.32 1080.81,765.9 1081.16,763.54 1081.49,761.27 1081.81,759.11 1082.1,757.1 1082.35,755.41 1082.61,753.58 1082.89,751.61 1083.18,749.54 1083.48,747.36 1083.79,745.1 1084.11,742.78 1084.43,740.41 1084.75,738.01 1085.08,735.59 1085.4,733.17 1085.72,730.76 1086.03,728.39 1086.33,726.07 1086.62,723.81 1086.9,721.64 1087.16,719.56 1087.4,717.6 1087.61,715.89 1087.83,714.04 1088.06,712.06 1088.3,709.96 1088.54,707.77 1088.8,705.49 1089.06,703.14 1089.32,700.74 1089.59,698.3 1089.86,695.84 1090.14,693.36 1090.41,690.9 1090.68,688.46 1090.94,686.06 1091.2,683.71 1091.46,681.43 1091.7,679.24 1091.94,677.14 1092.17,675.16 1092.39,673.31 1092.6,671.6 1092.84,669.64 1093.1,667.56 1093.38,665.39 1093.67,663.13 1093.97,660.81 1094.28,658.44 1094.6,656.03 1094.92,653.61 1095.25,651.2 1095.57,648.79 1095.89,646.42 1096.21,644.1 1096.52,641.84 1096.82,639.66 1097.11,637.59 1097.39,635.62 1097.65,633.79 1097.9,632.1 1098.2,630.09 1098.52,627.94 1098.86,625.68 1099.22,623.33 1099.59,620.92 1099.97,618.47 1100.36,616.02 1100.75,613.58 1101.14,611.19 1101.52,608.86 1101.89,606.63 1102.25,604.53 1102.59,602.57 1102.91,600.78 1103.2,599.2 1103.64,596.91 1104.13,594.51 1104.64,592.04 1105.18,589.54 1105.74,587.08 1106.29,584.68 1106.85,582.41 1107.39,580.31 1107.91,578.42 1108.4,576.8 1109.16,574.59 1110.06,572.23 1111.05,569.84 1112.09,567.55 1113.12,565.47 1114.11,563.71 1115,562.4 1116.75,560.72 1118.88,559.41 1121.05,558.61 1122.9,558.4 1124.73,558.91 1126.85,560.06 1128.97,561.71 1130.8,563.7 1131.66,565.06 1132.62,566.92 1133.66,569.12 1134.73,571.5 1135.81,573.89 1136.86,576.13 1137.83,578.05 1138.7,579.5 1140.3,582.11 1142.05,584.76 1144.17,586.6 1146.9,586.8 1148.12,586.21 1149.67,585.1 1151.47,583.6 1153.49,581.81 1155.65,579.84 1157.89,577.8 1160.17,575.81 1162.41,573.98 1164.57,572.41 1166.57,571.22 1168.37,570.51 1169.9,570.4 1171.21,570.89 1172.59,571.89 1174.02,573.33 1175.49,575.11 1176.99,577.16 1178.5,579.4 1180,581.75 1181.49,584.12 1182.95,586.45 1184.37,588.64 1185.72,590.61 1187,592.29 1188.2,593.6 1189.84,595.01 1191.74,596.38 1193.81,597.73 1195.99,599.03 1198.21,600.3 1200.38,601.52 1202.44,602.7 1204.31,603.82 1205.92,604.89 1207.2,605.9 1208.94,607.67 1210.53,609.67 1211.98,611.8 1213.27,613.97 1214.41,616.1 1215.4,618.1 1216.18,619.91 1216.98,622.04 1217.77,624.4 1218.56,626.9 1219.34,629.45 1220.08,631.98 1220.8,634.4 1221.28,636.03 1221.84,637.93 1222.45,640.05 1223.1,642.33 1223.78,644.73 1224.48,647.21 1225.17,649.7 1225.84,652.17 1226.48,654.55 1227.07,656.81 1227.6,658.9 1228.04,660.71 1228.53,662.75 1229.06,665 1229.61,667.39 1230.19,669.89 1230.77,672.47 1231.36,675.07 1231.93,677.65 1232.5,680.18 1233.03,682.61 1233.53,684.9 1233.99,687.01 1234.4,688.9 1234.82,690.9 1235.28,693.06 1235.75,695.35 1236.23,697.73 1236.72,700.17 1237.22,702.64 1237.71,705.1 1238.19,707.52 1238.66,709.86 1239.1,712.1 1239.52,714.19 1239.9,716.1 1240.28,718.03 1240.7,720.15 1241.15,722.44 1241.62,724.84 1242.11,727.32 1242.6,729.83 1243.09,732.34 1243.58,734.8 1244.05,737.16 1244.5,739.4 1244.92,741.46 1245.3,743.3 1245.72,745.28 1246.18,747.42 1246.67,749.7 1247.18,752.06 1247.71,754.47 1248.25,756.9 1248.79,759.29 1249.32,761.62 1249.84,763.84 1250.34,765.91 1250.8,767.8 1251.28,769.7 1251.82,771.82 1252.4,774.1 1253.02,776.49 1253.67,778.95 1254.34,781.42 1255.01,783.86 1255.68,786.22 1256.35,788.44 1256.99,790.49 1257.6,792.3 1258.32,794.24 1259.14,796.35 1260.06,798.56 1261.05,800.86 1262.08,803.2 1263.13,805.54 1264.18,807.84 1265.2,810.05 1266.19,812.16 1267.1,814.1 1267.9,815.78 1268.82,817.71 1269.84,819.82 1270.93,822.07 1272.08,824.4 1273.25,826.76 1274.42,829.1 1275.57,831.36 1276.66,833.5 1277.68,835.45 1278.6,837.17 1279.4,838.6 1280.68,840.79 1282.02,842.98 1283.39,845.12 1284.78,847.15 1286.18,849.05 1287.56,850.74 1288.9,852.2 1290.43,853.59 1292.31,855.08 1294.4,856.6 1296.59,858.09 1298.76,859.48 1300.77,860.71 1302.5,861.7 1304.51,862.73 1306.83,863.77 1309.3,864.79 1311.77,865.73 1314.09,866.55 1316.1,867.2 1317.87,867.75 1319.64,868.29 1321.57,868.79 1323.79,869.25 1326.45,869.62 1329.7,869.9 1331,869.97 1332.51,870.04 1334.2,870.11 1336.06,870.18 1338.06,870.24 1340.2,870.3 1342.46,870.36 1344.81,870.41 1347.25,870.45 1349.75,870.49 1352.3,870.52 1354.87,870.54 1357.46,870.56 1360.05,870.57 1362.61,870.56 1365.14,870.55 1367.6,870.53 1370,870.5 1371.89,870.47 1374.02,870.43 1376.37,870.38 1378.91,870.33 1381.62,870.27 1384.49,870.2 1387.47,870.13 1390.56,870.05 1393.73,869.96 1396.96,869.87 1400.23,869.78 1403.5,869.67 1406.77,869.57 1410.01,869.46 1413.19,869.35 1416.29,869.23 1419.29,869.11 1422.17,868.99 1424.91,868.86 1427.47,868.73 1429.85,868.6 1432.01,868.47 1433.93,868.34 1435.6,868.2 1438.61,867.87 1441.52,867.45 1444.31,866.95 1446.96,866.4 1449.47,865.81 1451.82,865.2 1454,864.6 1455.99,864.01 1457.77,863.47 1459.35,862.99 1460.69,862.6 1461.8,862.3 1464.71,861.36 1465,861" fill="none" stroke="#1ee61e" stroke-width="5.4" stroke-linejoin="round" stroke-linecap="round"/>
<path d="M486,1016 486.03,1014.92 486.06,1013.57 486.1,1011.97 486.14,1010.13 486.18,1008.1 486.23,1005.87 486.28,1003.49 486.33,1000.96 486.39,998.32 486.45,995.59 486.51,992.78 486.58,989.92 486.65,987.04 486.72,984.16 486.79,981.29 486.87,978.46 486.94,975.69 487.02,973.02 487.1,970.44 487.18,968 487.26,965.72 487.34,963.61 487.42,961.69 487.5,960 487.63,957.65 487.78,955.09 487.95,952.35 488.14,949.49 488.35,946.55 488.57,943.57 488.79,940.61 489.03,937.7 489.26,934.89 489.5,932.22 489.73,929.75 489.96,927.52 490.18,925.57 490.38,923.94 490.57,922.69 490.75,921.87 490.9,921.5 491.06,921.69 491.23,922.49 491.41,923.83 491.59,925.62 491.77,927.8 491.95,930.3 492.14,933.04 492.32,935.95 492.5,938.96 492.68,941.99 492.86,944.98 493.03,947.84 493.19,950.52 493.35,952.93 493.5,955 493.64,956.98 493.79,959.34 493.96,962.02 494.13,964.93 494.31,968.02 494.49,971.19 494.68,974.38 494.87,977.52 495.06,980.54 495.25,983.36 495.44,985.9 495.63,988.1 495.81,989.89 495.98,991.18 496.14,991.91 496.3,992 496.42,991.59 496.55,990.77 496.69,989.56 496.83,988.02 496.98,986.17 497.14,984.06 497.3,981.71 497.47,979.17 497.64,976.47 497.8,973.65 497.98,970.74 498.15,967.78 498.31,964.81 498.48,961.87 498.64,958.98 498.8,956.2 498.96,953.54 499.1,951.06 499.24,948.78 499.38,946.75 499.5,945 499.66,942.81 499.84,940.46 500.02,937.98 500.21,935.4 500.41,932.76 500.62,930.08 500.83,927.39 501.03,924.72 501.24,922.12 501.45,919.6 501.65,917.19 501.84,914.93 502.02,912.86 502.19,910.99 502.35,909.36 502.5,908 502.97,904.46 503.49,901.58 504.01,899.32 504.53,897.64 505,896.5 506.45,895.88 508,897 509.06,898.61 510.31,900.99 511.5,903 512.59,902.67 513.97,908.85 516,907.25 517.49,909.03 519.42,906.38 521.73,910.09 524.31,906.52 527.1,909.23 530,906.41 531.54,909.55 533.41,906.33 535.56,908.7 537.93,906.37 540.46,908.84 543.1,905.68 545.8,909.54 548.5,905.11 551.14,908.64 553.66,905.72 556.02,908.08 558.15,906.27 560,907.7 562.1,905.69 564.36,908.34 566.74,906.11 569.2,909.59 571.7,906.31 574.19,909.54 576.63,907.23 578.97,909.18 581.18,907.53 583.2,909.74 585,907.55 587.22,911.29 589.72,907.44 592.39,910.08 595.12,907.11 597.81,911.05 600.35,907.45 602.63,911.44 604.55,907.79 606,911.88 608.16,910.3 609.56,915.92 610.56,914.23 611.5,919.91 612.11,920.65 612.75,922.69 613.43,925.01 614.13,927.5 614.84,930.07 615.57,932.6 616.3,935 616.82,936.85 617.45,939.34 618.15,942.29 618.92,945.5 619.72,948.78 620.55,951.94 621.38,954.79 622.19,957.13 622.96,958.77 623.67,959.53 624.3,959.2 624.6,958.48 624.91,957.3 625.23,955.69 625.56,953.72 625.91,951.42 626.26,948.84 626.61,946.03 626.98,943.05 627.35,939.93 627.73,936.73 628.11,933.5 628.5,930.28 628.89,927.12 629.28,924.07 629.67,921.18 630.06,918.49 630.46,916.06 630.85,913.93 631.24,912.15 631.63,910.77 632.02,909.84 632.4,909.4 632.87,909.55 633.4,910.37 633.99,911.77 634.62,913.67 635.3,916 636,918.68 636.73,921.63 637.49,924.77 638.25,928.02 639.03,931.31 639.8,934.56 640.57,937.68 641.32,940.61 642.06,943.25 642.76,945.55 643.44,947.41 644.07,948.75 644.66,949.51 645.2,949.6 645.61,949.17 646.05,948.32 646.51,947.1 646.99,945.53 647.48,943.65 647.99,941.51 648.5,939.12 649.03,936.54 649.56,933.79 650.1,930.9 650.63,927.92 651.17,924.88 651.69,921.82 652.22,918.76 652.73,915.75 653.23,912.82 653.72,910.01 654.18,907.35 654.63,904.87 655.06,902.61 655.46,900.61 655.84,898.9 656.19,897.52 656.5,896.5 658.81,893.71 660.98,896.1 663,900 663.65,901.28 664.41,903.01 665.26,905.1 666.16,907.45 667.08,909.99 668,912.61 668.88,915.23 669.7,917.76 670.41,920.12 671,922.2 671.47,924 671.94,925.92 672.41,927.94 672.87,930.07 673.33,932.32 673.78,934.67 674.22,937.13 674.65,939.69 675.05,942.36 675.44,945.13 675.8,948 675.97,949.45 676.14,951.09 676.33,952.91 676.53,954.9 676.73,957.04 676.94,959.31 677.16,961.68 677.38,964.16 677.6,966.71 677.83,969.32 678.05,971.98 678.28,974.66 678.51,977.35 678.73,980.03 678.95,982.69 679.17,985.3 679.38,987.86 679.58,990.33 679.78,992.72 679.96,994.99 680.14,997.13 680.31,999.12 680.46,1000.95 680.6,1002.6 680.79,1004.82 680.98,1007.1 681.16,1009.42 681.35,1011.77 681.54,1014.15 681.73,1016.55 681.92,1018.95 682.11,1021.35 682.29,1023.73 682.48,1026.09 682.67,1028.42 682.86,1030.71 683.05,1032.95 683.24,1035.13 683.42,1037.23 683.61,1039.26 683.8,1041.2 683.98,1042.98 684.17,1044.91 684.38,1046.98 684.61,1049.16 684.85,1051.45 685.1,1053.81 685.36,1056.23 685.62,1058.69 685.9,1061.18 686.17,1063.66 686.45,1066.13 686.74,1068.57 687.02,1070.95 687.3,1073.25 687.57,1075.46 687.84,1077.56 688.1,1079.53 688.36,1081.35 688.6,1083 688.94,1085.18 689.32,1087.49 689.73,1089.88 690.17,1092.35 690.63,1094.86 691.11,1097.38 691.61,1099.9 692.11,1102.39 692.63,1104.82 693.14,1107.17 693.64,1109.4 694.14,1111.5 694.63,1113.44 695.1,1115.2 695.69,1117.24 696.39,1119.46 697.17,1121.81 698.02,1124.25 698.91,1126.72 699.82,1129.18 700.74,1131.58 701.64,1133.86 702.51,1135.98 703.32,1137.9 704.06,1139.55 704.7,1140.9 706.2,1143.71 707.83,1146.31 709.52,1148.48 711.2,1149.95 712.8,1150.5 714.24,1150.15 715.94,1149.15 717.84,1147.63 719.86,1145.68 721.94,1143.4 724,1140.9 724.89,1139.73 725.92,1138.3 727.07,1136.65 728.33,1134.81 729.67,1132.81 731.07,1130.69 732.51,1128.49 733.98,1126.23 735.45,1123.96 736.91,1121.71 738.34,1119.5 739.71,1117.39 741,1115.39 742.21,1113.55 743.3,1111.9 744.39,1110.27 745.59,1108.49 746.87,1106.59 748.23,1104.58 749.64,1102.5 751.08,1100.37 752.54,1098.21 754,1096.05 755.43,1093.91 756.83,1091.82 758.17,1089.81 759.44,1087.9 760.61,1086.11 761.67,1084.47 762.6,1083 763.78,1081.07 764.98,1079.02 766.19,1076.9 767.4,1074.73 768.61,1072.53 769.82,1070.34 771,1068.18 772.17,1066.09 773.32,1064.1 774.43,1062.22 775.5,1060.5 776.54,1058.93 777.73,1057.23 779.02,1055.42 780.41,1053.53 781.86,1051.57 783.34,1049.57 784.83,1047.56 786.31,1045.55 787.74,1043.57 789.1,1041.63 790.36,1039.77 791.5,1038 792.41,1036.5 793.4,1034.77 794.47,1032.84 795.59,1030.76 796.76,1028.57 797.96,1026.31 799.18,1024.01 800.39,1021.71 801.59,1019.45 802.75,1017.28 803.87,1015.23 804.93,1013.33 805.92,1011.64 806.81,1010.18 807.6,1009 809.53,1006.75 811.58,1005.03 813.65,1003.63 815.64,1002.36 817.42,1001.02 818.9,999.4 819.87,997.69 820.84,995.43 821.83,992.82 822.82,990.07 823.82,987.38 824.84,984.95 825.86,982.99 826.9,981.7 829,980.98 831.72,981.24 834.67,981.86 837.49,982.22 839.8,981.7 841.08,980.57 842.48,978.77 843.96,976.54 845.48,974.12 846.99,971.75 848.44,969.64 849.79,968.05 851,967.2 853.04,967.59 855.41,969.4 857.89,971.66 860.26,973.41 862.3,973.7 863.51,972.66 864.86,970.7 866.31,968.16 867.82,965.33 869.34,962.54 870.82,960.12 872.22,958.36 873.5,957.6 874.84,958.06 876.39,959.53 878.09,961.66 879.87,964.13 881.65,966.59 883.38,968.69 884.99,970.11 886.4,970.5 887.64,969.7 889.02,967.91 890.51,965.44 892.07,962.57 893.64,959.62 895.2,956.87 896.69,954.62 898.07,953.16 899.3,952.8 900.21,953.45 901.2,954.85 902.26,956.87 903.38,959.33 904.53,962.1 905.7,965.01 906.87,967.91 908.02,970.65 909.14,973.07 910.2,975.03 911.19,976.35 912.1,976.9 913.09,976.46 914.16,975.06 915.31,972.92 916.51,970.27 917.76,967.32 919.02,964.3 920.28,961.44 921.53,958.96 922.74,957.07 923.91,956.01 925,956 925.68,956.65 926.43,957.83 927.25,959.47 928.11,961.5 929.03,963.87 929.97,966.49 930.95,969.3 931.94,972.22 932.95,975.2 933.96,978.17 934.96,981.04 935.95,983.77 936.91,986.26 937.85,988.47 938.74,990.32 939.59,991.73 940.38,992.65 941.1,993 941.86,992.67 942.68,991.64 943.55,990.02 944.46,987.89 945.4,985.36 946.37,982.51 947.35,979.45 948.33,976.27 949.32,973.06 950.29,969.93 951.23,966.96 952.15,964.25 953.03,961.91 953.87,960.01 954.65,958.66 955.36,957.96 956,958 956.43,958.5 956.87,959.37 957.33,960.56 957.79,962.07 958.26,963.84 958.73,965.87 959.21,968.11 959.7,970.54 960.18,973.13 960.66,975.86 961.15,978.68 961.62,981.58 962.1,984.53 962.57,987.49 963.03,990.44 963.48,993.35 963.92,996.19 964.35,998.94 964.77,1001.55 965.17,1004.01 965.56,1006.28 965.92,1008.34 966.27,1010.15 966.6,1011.7 967.17,1014.16 967.77,1016.72 968.41,1019.35 969.07,1022 969.75,1024.64 970.43,1027.24 971.11,1029.76 971.78,1032.15 972.42,1034.39 973.03,1036.44 973.61,1038.26 974.13,1039.82 974.6,1041.08 975,1042 977.26,1042.01 979.4,1037.6 980.2,1036.13 981.22,1034.01 982.37,1031.51 983.56,1028.95 984.73,1026.62 985.77,1024.8 986.6,1023.8 988.41,1023.94 990.27,1025.99 991.7,1028.9 992.1,1030.29 992.51,1032.15 992.91,1034.35 993.3,1036.76 993.66,1039.29 994.01,1041.8 994.32,1044.17 994.6,1046.3 994.84,1048.23 995.08,1050.49 995.34,1052.98 995.6,1055.63 995.87,1058.34 996.12,1061.03 996.36,1063.61 996.59,1065.99 996.8,1068.1 997.01,1070.2 997.24,1072.58 997.48,1075.15 997.73,1077.83 998,1080.53 998.26,1083.18 998.52,1085.67 998.76,1087.94 999,1089.9 999.29,1092.03 999.65,1094.36 1000.04,1096.82 1000.45,1099.31 1000.87,1101.76 1001.26,1104.08 1001.61,1106.19 1001.9,1108 1002.24,1110.31 1002.59,1112.8 1002.94,1115.37 1003.3,1117.93 1003.65,1120.37 1004,1122.6 1004.32,1124.66 1004.69,1127.14 1005.1,1129.86 1005.54,1132.62 1006.01,1135.24 1006.5,1137.53 1007,1139.3 1008.18,1142.03 1009.76,1144.78 1011.41,1146.95 1012.8,1148 1014.56,1147.14 1016.58,1144.74 1018.6,1142.2 1019.78,1140.76 1021.29,1138.8 1022.95,1136.63 1024.61,1134.56 1026.12,1132.91 1027.3,1132 1029.38,1132.07 1031.47,1133.52 1033.1,1135.6 1033.84,1137.32 1034.57,1139.72 1035.29,1142.49 1036,1145.35 1036.7,1148 1037.22,1149.78 1037.86,1151.98 1038.59,1154.46 1039.36,1157.08 1040.11,1159.69 1040.8,1162.16 1041.38,1164.34 1041.8,1166.1 1042.18,1168.45 1042.36,1170.77 1042.5,1173.08 1042.73,1175.44 1043.2,1177.9 1043.64,1179.58 1044.22,1181.72 1044.93,1184.17 1045.71,1186.8 1046.55,1189.47 1047.4,1192.02 1048.23,1194.32 1049.01,1196.23 1049.7,1197.6 1051.45,1199.56 1053.58,1200.78 1055.75,1201.42 1057.6,1201.6 1059.45,1201.44 1061.61,1200.85 1063.75,1199.63 1065.5,1197.6 1066.11,1196.42 1066.76,1194.91 1067.45,1193.12 1068.15,1191.09 1068.87,1188.88 1069.57,1186.52 1070.26,1184.06 1070.92,1181.56 1071.54,1179.06 1072.1,1176.6 1072.41,1175.15 1072.73,1173.5 1073.08,1171.66 1073.44,1169.68 1073.82,1167.55 1074.2,1165.31 1074.6,1162.97 1075,1160.56 1075.4,1158.1 1075.8,1155.61 1076.2,1153.11 1076.6,1150.61 1076.98,1148.16 1077.36,1145.75 1077.72,1143.42 1078.07,1141.19 1078.39,1139.08 1078.7,1137.1 1078.96,1135.39 1079.24,1133.54 1079.54,1131.56 1079.85,1129.46 1080.17,1127.27 1080.5,1124.99 1080.84,1122.64 1081.19,1120.24 1081.54,1117.8 1081.89,1115.34 1082.25,1112.86 1082.6,1110.4 1082.94,1107.96 1083.28,1105.56 1083.61,1103.21 1083.93,1100.93 1084.24,1098.74 1084.53,1096.64 1084.81,1094.66 1085.06,1092.81 1085.3,1091.1 1085.57,1089.15 1085.85,1087.09 1086.13,1084.95 1086.43,1082.73 1086.73,1080.46 1087.04,1078.13 1087.34,1075.78 1087.66,1073.4 1087.96,1071.02 1088.27,1068.65 1088.58,1066.3 1088.88,1063.99 1089.17,1061.72 1089.46,1059.52 1089.74,1057.39 1090,1055.35 1090.26,1053.42 1090.5,1051.6 1090.74,1049.77 1091,1047.82 1091.28,1045.75 1091.57,1043.58 1091.87,1041.33 1092.19,1039.02 1092.5,1036.66 1092.83,1034.26 1093.15,1031.85 1093.47,1029.44 1093.8,1027.04 1094.11,1024.68 1094.43,1022.37 1094.73,1020.12 1095.02,1017.95 1095.3,1015.88 1095.56,1013.93 1095.8,1012.1 1096.04,1010.26 1096.3,1008.26 1096.56,1006.13 1096.84,1003.88 1097.13,1001.54 1097.42,999.13 1097.72,996.67 1098.03,994.18 1098.34,991.69 1098.64,989.21 1098.96,986.78 1099.26,984.4 1099.57,982.1 1099.87,979.91 1100.17,977.84 1100.45,975.92 1100.73,974.16 1101,972.6 1101.42,970.33 1101.9,967.93 1102.42,965.46 1102.98,962.93 1103.56,960.41 1104.16,957.94 1104.77,955.54 1105.38,953.27 1105.97,951.17 1106.55,949.28 1107.09,947.64 1107.6,946.3 1108.96,943.59 1110.61,941.22 1112.37,939.27 1114.06,937.87 1115.5,937.1 1117.35,937.11 1119.52,937.99 1121.65,939.42 1123.4,941.1 1124.39,942.63 1125.42,944.78 1126.5,947.27 1127.62,949.85 1128.78,952.24 1130,954.2 1131.2,955.94 1132.65,958.13 1134.29,960.48 1136.1,962.72 1138.01,964.54 1140,965.67 1142,965.8 1143.2,965.25 1144.64,964.15 1146.26,962.61 1148.05,960.74 1149.95,958.63 1151.93,956.41 1153.96,954.16 1155.99,952 1158,950.04 1159.94,948.37 1161.78,947.1 1163.48,946.34 1165,946.2 1166.31,946.63 1167.76,947.54 1169.33,948.86 1170.98,950.53 1172.7,952.47 1174.47,954.61 1176.25,956.9 1178.03,959.27 1179.77,961.63 1181.46,963.94 1183.06,966.12 1184.57,968.1 1185.94,969.82 1187.16,971.21 1188.2,972.2 1191,973.83 1193.7,974.43 1196.22,974.49 1198.47,974.52 1200.4,975 1202.29,976.1 1204.37,977.59 1206.45,979.34 1208.36,981.21 1209.9,983.1 1210.87,984.65 1211.88,986.6 1212.91,988.81 1213.94,991.18 1214.93,993.6 1215.86,995.94 1216.7,998.1 1217.36,999.84 1218.1,1001.87 1218.89,1004.11 1219.73,1006.52 1220.57,1009.01 1221.41,1011.52 1222.2,1013.98 1222.94,1016.33 1223.6,1018.5 1224.08,1020.17 1224.61,1022.07 1225.18,1024.16 1225.77,1026.39 1226.38,1028.72 1227,1031.11 1227.63,1033.52 1228.24,1035.91 1228.83,1038.23 1229.39,1040.45 1229.92,1042.52 1230.4,1044.4 1230.88,1046.28 1231.42,1048.34 1232,1050.56 1232.61,1052.9 1233.23,1055.33 1233.87,1057.8 1234.5,1060.28 1235.12,1062.73 1235.71,1065.13 1236.26,1067.43 1236.76,1069.6 1237.2,1071.6 1237.58,1073.48 1237.98,1075.57 1238.4,1077.84 1238.82,1080.25 1239.25,1082.75 1239.68,1085.31 1240.12,1087.89 1240.55,1090.45 1240.98,1092.95 1241.4,1095.36 1241.82,1097.63 1242.22,1099.72 1242.6,1101.6 1243.04,1103.6 1243.54,1105.76 1244.09,1108.05 1244.68,1110.43 1245.3,1112.87 1245.93,1115.34 1246.57,1117.8 1247.19,1120.22 1247.8,1122.56 1248.38,1124.8 1248.92,1126.89 1249.4,1128.8 1249.88,1130.73 1250.39,1132.85 1250.95,1135.14 1251.52,1137.54 1252.12,1140.02 1252.73,1142.53 1253.34,1145.04 1253.95,1147.5 1254.55,1149.86 1255.13,1152.1 1255.68,1154.16 1256.2,1156 1256.78,1157.98 1257.44,1160.14 1258.15,1162.43 1258.9,1164.81 1259.69,1167.24 1260.5,1169.67 1261.32,1172.07 1262.13,1174.4 1262.92,1176.61 1263.68,1178.65 1264.4,1180.5 1265.17,1182.35 1266.07,1184.42 1267.08,1186.64 1268.16,1188.96 1269.29,1191.34 1270.42,1193.71 1271.55,1196.02 1272.63,1198.21 1273.63,1200.25 1274.53,1202.06 1275.3,1203.6 1276.4,1205.81 1277.54,1208.07 1278.7,1210.32 1279.87,1212.54 1281.05,1214.69 1282.23,1216.72 1283.4,1218.6 1284.42,1220.15 1285.65,1221.96 1287.03,1223.95 1288.51,1226.04 1290.05,1228.13 1291.58,1230.15 1293.07,1232.01 1294.46,1233.62 1295.7,1234.9 1297.3,1236.3 1299.11,1237.67 1301.08,1238.98 1303.13,1240.21 1305.23,1241.33 1307.3,1242.3 1309.3,1243.1 1311,1243.65 1313.02,1244.21 1315.29,1244.75 1317.73,1245.27 1320.25,1245.77 1322.79,1246.22 1325.27,1246.61 1327.59,1246.94 1329.7,1247.2 1331.48,1247.38 1333.31,1247.53 1335.21,1247.66 1337.23,1247.76 1339.39,1247.84 1341.73,1247.89 1344.29,1247.92 1347.1,1247.93 1350.19,1247.93 1353.6,1247.9 1355.23,1247.88 1357.12,1247.87 1359.25,1247.85 1361.6,1247.83 1364.14,1247.81 1366.86,1247.79 1369.72,1247.76 1372.71,1247.73 1375.8,1247.69 1378.97,1247.65 1382.2,1247.6 1385.47,1247.55 1388.74,1247.49 1392.01,1247.43 1395.25,1247.35 1398.43,1247.27 1401.54,1247.19 1404.54,1247.09 1407.42,1246.98 1410.16,1246.87 1412.73,1246.74 1415.11,1246.61 1417.27,1246.46 1419.2,1246.3 1421.54,1246.06 1423.98,1245.75 1426.51,1245.38 1429.11,1244.96 1431.75,1244.5 1434.41,1244.01 1437.08,1243.49 1439.72,1242.95 1442.34,1242.4 1444.89,1241.84 1447.36,1241.29 1449.73,1240.76 1451.98,1240.24 1454.09,1239.75 1456.04,1239.3 1457.81,1238.89 1459.37,1238.53 1460.71,1238.23 1461.8,1238 1465.53,1237.09 1465,1237" fill="none" stroke="#1010d8" stroke-width="5.4" stroke-linejoin="round" stroke-linecap="round"/>
<path d="M484.5,1302.7 484.56,1303.75 484.64,1305.11 484.74,1306.74 484.85,1308.62 484.97,1310.7 485.1,1312.97 485.24,1315.39 485.39,1317.93 485.54,1320.56 485.7,1323.25 485.86,1325.96 486.02,1328.68 486.18,1331.36 486.33,1333.97 486.48,1336.49 486.63,1338.88 486.76,1341.12 486.89,1343.17 487,1345 487.13,1347.04 487.27,1349.3 487.42,1351.75 487.58,1354.34 487.74,1357.05 487.92,1359.82 488.09,1362.63 488.27,1365.43 488.44,1368.18 488.62,1370.86 488.78,1373.41 488.95,1375.8 489.1,1377.99 489.25,1379.94 489.38,1381.62 489.5,1382.99 489.6,1384 490.31,1384.95 491,1380 491.2,1378.66 491.45,1376.83 491.73,1374.64 492.04,1372.19 492.35,1369.59 492.67,1366.96 492.98,1364.41 493.26,1362.06 493.5,1360 493.72,1358.24 493.96,1356.33 494.22,1354.29 494.5,1352.14 494.77,1349.9 495.05,1347.59 495.32,1345.22 495.57,1342.82 495.8,1340.41 496,1338 496.11,1336.45 496.22,1334.65 496.34,1332.64 496.47,1330.43 496.6,1328.08 496.72,1325.61 496.85,1323.05 496.99,1320.44 497.11,1317.81 497.24,1315.19 497.37,1312.62 497.49,1310.13 497.6,1307.75 497.71,1305.51 497.82,1303.45 497.91,1301.6 498,1300 498.13,1297.63 498.26,1295.09 498.39,1292.46 498.52,1289.8 498.66,1287.16 498.79,1284.62 498.93,1282.23 499.07,1280.06 499.21,1278.18 499.36,1276.63 499.5,1275.5 500.65,1273.83 502,1275 503.6,1276.67 505.5,1279 506.89,1280.88 508.7,1283.21 511,1285 512.64,1284.58 514.86,1287.69 517.41,1285.52 520.05,1288.84 522.56,1286.05 524.7,1288.76 526.8,1287.59 529.24,1290.48 531.86,1287.69 534.49,1289.94 536.96,1286.82 539.1,1290.38 541.2,1286.91 543.57,1289.99 546.11,1286.61 548.69,1288.74 551.23,1285.78 553.6,1289 555.57,1285.13 557.98,1287.84 560.67,1283.69 563.5,1285.46 566.29,1282.23 568.89,1285.08 571.15,1282.02 572.9,1283.71 575.61,1281.5 578.04,1286.04 580.3,1284.21 582.5,1289.01 584.7,1285.58 587.49,1289.54 590.43,1286.44 593.08,1290.33 595,1288.66 595.68,1293.57 596.32,1291.64 596.91,1297.16 597.47,1298.5 597.99,1303.5 598.47,1303.42 598.93,1309.69 599.37,1309.05 599.79,1313.44 600.2,1311.66 600.78,1313.62 601.4,1308.67 602.04,1307.91 602.72,1300.99 603.44,1301.28 604.2,1295.42 605,1299.09 605.4,1295.86 605.88,1301.52 606.41,1299.67 607,1304.77 607.63,1304.71 608.3,1311.93 608.99,1310.97 609.69,1317.84 610.4,1317.78 611.1,1323.61 611.79,1323.52 612.46,1327.95 613.09,1329.99 613.68,1331.47 614.22,1332.31 614.7,1332.4 615.02,1331.89 615.36,1330.88 615.69,1329.4 616.03,1327.52 616.38,1325.29 616.73,1322.76 617.08,1319.98 617.44,1317 617.81,1313.88 618.17,1310.67 618.54,1307.42 618.91,1304.19 619.28,1301.02 619.66,1297.97 620.04,1295.1 620.42,1292.45 620.8,1290.07 621.18,1288.03 621.56,1286.37 621.94,1285.14 622.32,1284.4 622.7,1284.2 623.07,1284.55 623.48,1285.4 623.92,1286.71 624.4,1288.42 624.91,1290.5 625.44,1292.9 625.99,1295.57 626.57,1298.47 627.16,1301.54 627.76,1304.74 628.37,1308.02 628.99,1311.35 629.61,1314.66 630.23,1317.92 630.84,1321.07 631.45,1324.08 632.04,1326.89 632.62,1329.46 633.18,1331.75 633.72,1333.69 634.24,1335.26 634.72,1336.4 635.18,1337.06 635.6,1337.2 636.01,1336.8 636.43,1335.89 636.87,1334.53 637.32,1332.75 637.78,1330.59 638.25,1328.1 638.73,1325.33 639.22,1322.31 639.71,1319.09 640.2,1315.71 640.7,1312.22 641.2,1308.65 641.7,1305.06 642.2,1301.49 642.69,1297.97 643.18,1294.56 643.67,1291.29 644.15,1288.21 644.62,1285.36 645.08,1282.78 645.53,1280.53 645.97,1278.63 646.39,1277.14 646.8,1276.1 648.17,1274.73 649.81,1275.13 651.62,1276.85 653.49,1279.41 655.33,1282.37 657.05,1285.26 658.54,1287.63 659.7,1289 663.22,1289.64 666.1,1290.6 666.92,1291.88 667.88,1293.63 668.91,1295.77 669.95,1298.23 670.95,1300.92 671.86,1303.77 672.6,1306.7 672.89,1308.09 673.19,1309.69 673.49,1311.47 673.81,1313.42 674.12,1315.51 674.44,1317.72 674.76,1320.03 675.09,1322.42 675.4,1324.87 675.72,1327.36 676.02,1329.88 676.32,1332.39 676.61,1334.87 676.89,1337.32 677.15,1339.7 677.4,1342 677.56,1343.58 677.73,1345.32 677.91,1347.2 678.1,1349.21 678.29,1351.33 678.48,1353.56 678.68,1355.88 678.88,1358.27 679.09,1360.73 679.3,1363.25 679.51,1365.8 679.72,1368.38 679.93,1370.97 680.15,1373.57 680.36,1376.15 680.58,1378.7 680.79,1381.22 681,1383.69 681.21,1386.09 681.41,1388.42 681.62,1390.65 681.82,1392.79 682.01,1394.81 682.2,1396.7 682.4,1398.59 682.61,1400.61 682.83,1402.75 683.07,1404.98 683.33,1407.31 683.59,1409.71 683.86,1412.18 684.14,1414.7 684.43,1417.25 684.72,1419.83 685.02,1422.43 685.32,1425.02 685.61,1427.6 685.91,1430.15 686.21,1432.67 686.51,1435.13 686.8,1437.52 687.08,1439.84 687.36,1442.07 687.63,1444.19 687.89,1446.2 688.14,1448.08 688.38,1449.82 688.6,1451.4 688.93,1453.68 689.29,1456.03 689.65,1458.42 690.04,1460.83 690.44,1463.26 690.85,1465.69 691.26,1468.11 691.69,1470.5 692.12,1472.83 692.55,1475.11 692.99,1477.32 693.42,1479.43 693.85,1481.45 694.27,1483.34 694.69,1485.09 695.1,1486.7 695.69,1488.83 696.38,1491.13 697.14,1493.53 697.97,1496.01 698.84,1498.5 699.74,1500.97 700.65,1503.35 701.54,1505.62 702.42,1507.71 703.24,1509.59 704.01,1511.2 704.7,1512.5 706.41,1515.06 708.36,1517.26 710.43,1518.98 712.49,1520.1 714.4,1520.5 716.12,1520.19 718.2,1519.33 720.48,1518.03 722.84,1516.38 725.12,1514.5 727.2,1512.5 728.24,1511.33 729.4,1509.9 730.68,1508.23 732.04,1506.39 733.46,1504.39 734.93,1502.3 736.41,1500.15 737.88,1497.98 739.33,1495.84 740.74,1493.77 742.07,1491.81 743.3,1490 744.31,1488.52 745.44,1486.86 746.67,1485.05 747.98,1483.1 749.35,1481.05 750.77,1478.93 752.22,1476.75 753.68,1474.56 755.13,1472.38 756.55,1470.23 757.92,1468.15 759.23,1466.16 760.46,1464.28 761.59,1462.55 762.6,1461 763.74,1459.23 764.95,1457.31 766.24,1455.28 767.57,1453.15 768.92,1450.97 770.29,1448.77 771.65,1446.57 772.99,1444.41 774.29,1442.32 775.53,1440.34 776.68,1438.48 777.75,1436.79 778.7,1435.3 779.9,1433.43 781.18,1431.44 782.52,1429.38 783.88,1427.27 785.26,1425.17 786.62,1423.1 787.95,1421.12 789.22,1419.24 790.41,1417.53 791.5,1416 792.75,1414.37 794.16,1412.66 795.7,1410.87 797.3,1409.04 798.91,1407.18 800.48,1405.31 801.95,1403.46 803.28,1401.65 804.4,1399.9 805.25,1398.3 806.14,1396.36 807.06,1394.16 808,1391.78 808.94,1389.32 809.88,1386.86 810.81,1384.47 811.7,1382.25 812.56,1380.27 813.36,1378.63 814.1,1377.4 816.29,1375.54 818.82,1374.76 821.39,1374.1 823.7,1372.6 824.72,1371.25 825.9,1369.33 827.2,1367.01 828.57,1364.48 829.97,1361.91 831.36,1359.49 832.69,1357.4 833.91,1355.81 835,1354.9 837.01,1355.17 839.32,1357.06 841.74,1359.45 844.09,1361.23 846.2,1361.3 847.14,1360.39 848.21,1358.82 849.37,1356.75 850.6,1354.33 851.87,1351.7 853.16,1349.03 854.45,1346.48 855.7,1344.18 856.89,1342.3 858,1340.99 859,1340.4 860.24,1340.81 861.64,1342.27 863.15,1344.48 864.73,1347.13 866.32,1349.93 867.88,1352.56 869.37,1354.74 870.72,1356.15 871.9,1356.5 872.81,1355.76 873.78,1354.16 874.8,1351.88 875.86,1349.15 876.93,1346.15 878.02,1343.09 879.1,1340.17 880.18,1337.6 881.23,1335.58 882.24,1334.31 883.2,1334 883.99,1334.57 884.89,1335.85 885.87,1337.7 886.92,1340.03 888.02,1342.7 889.16,1345.6 890.32,1348.61 891.48,1351.61 892.63,1354.5 893.75,1357.13 894.83,1359.41 895.84,1361.21 896.77,1362.41 897.6,1362.9 898.47,1362.49 899.39,1361.2 900.36,1359.18 901.36,1356.61 902.39,1353.67 903.44,1350.52 904.49,1347.34 905.55,1344.29 906.59,1341.56 907.62,1339.32 908.62,1337.73 909.58,1336.96 910.5,1337.2 911.01,1337.84 911.56,1338.87 912.14,1340.27 912.77,1341.99 913.42,1343.99 914.1,1346.25 914.81,1348.72 915.53,1351.37 916.27,1354.16 917.03,1357.06 917.79,1360.03 918.55,1363.04 919.31,1366.04 920.07,1369.01 920.83,1371.9 921.57,1374.68 922.29,1377.32 923,1379.78 923.68,1382.02 924.33,1384.01 924.96,1385.71 925.54,1387.08 926.09,1388.09 926.6,1388.7 927.52,1388.8 928.49,1387.77 929.51,1385.81 930.55,1383.14 931.61,1379.95 932.68,1376.47 933.75,1372.9 934.8,1369.44 935.83,1366.32 936.83,1363.73 937.78,1361.9 938.67,1361.01 939.5,1361.3 939.94,1362 940.42,1363.05 940.92,1364.43 941.44,1366.11 941.98,1368.06 942.54,1370.25 943.12,1372.66 943.7,1375.25 944.3,1378.01 944.9,1380.89 945.51,1383.88 946.11,1386.94 946.71,1390.05 947.31,1393.17 947.89,1396.29 948.47,1399.36 949.03,1402.37 949.57,1405.29 950.1,1408.08 950.59,1410.72 951.07,1413.18 951.51,1415.43 951.92,1417.45 952.3,1419.2 952.78,1421.44 953.27,1423.85 953.76,1426.38 954.26,1429.02 954.76,1431.72 955.26,1434.45 955.76,1437.19 956.26,1439.89 956.76,1442.53 957.26,1445.07 957.76,1447.48 958.24,1449.73 958.73,1451.79 959.2,1453.62 959.67,1455.18 960.12,1456.46 960.57,1457.41 961,1458 961.85,1457.99 962.86,1456.72 963.97,1454.49 965.15,1451.61 966.36,1448.36 967.56,1445.06 968.72,1442 969.78,1439.48 970.72,1437.82 971.5,1437.3 972.12,1437.76 972.75,1438.8 973.38,1440.35 974.01,1442.33 974.64,1444.66 975.25,1447.28 975.85,1450.1 976.43,1453.04 976.98,1456.04 977.51,1459.02 978,1461.9 978.23,1463.3 978.47,1464.91 978.73,1466.71 979,1468.69 979.28,1470.82 979.57,1473.08 979.87,1475.46 980.18,1477.93 980.49,1480.48 980.8,1483.08 981.12,1485.72 981.43,1488.38 981.74,1491.03 982.05,1493.66 982.36,1496.25 982.65,1498.77 982.94,1501.22 983.22,1503.56 983.49,1505.78 983.75,1507.86 983.99,1509.79 984.21,1511.53 984.41,1513.07 984.6,1514.4 985.07,1517.49 985.54,1520.34 986.01,1522.94 986.48,1525.33 986.93,1527.51 987.36,1529.5 987.77,1531.32 988.15,1532.98 988.5,1534.5 989.12,1537.24 989.8,1540.08 990.52,1542.83 991.25,1545.26 992,1547.2 993.19,1549.45 994.73,1551.82 996.35,1553.74 997.8,1554.7 999.93,1554.02 1002.46,1552.07 1004.7,1550.1 1006.34,1548.43 1008.25,1546.23 1010.15,1544.21 1011.7,1543.1 1014.78,1543.77 1017.5,1546 1018.41,1547.63 1019.28,1549.91 1020.12,1552.42 1020.9,1554.7 1021.6,1556.63 1022.44,1559.02 1023.34,1561.6 1024.22,1564.11 1025,1566.3 1025.65,1568.14 1026.42,1570.31 1027.25,1572.65 1028.08,1574.99 1028.89,1577.16 1029.6,1579 1030.49,1581.24 1031.55,1583.86 1032.68,1586.52 1033.79,1588.88 1034.8,1590.6 1036.75,1592.67 1039.1,1594.32 1041.2,1595.2 1043.4,1595.19 1045.95,1594.54 1048.1,1593.5 1049.53,1592.32 1051.12,1590.63 1052.65,1588.63 1053.9,1586.5 1054.65,1584.75 1055.46,1582.49 1056.31,1579.9 1057.12,1577.17 1057.87,1574.51 1058.5,1572.1 1058.93,1570.31 1059.37,1568.29 1059.83,1566.07 1060.3,1563.69 1060.78,1561.18 1061.25,1558.57 1061.73,1555.9 1062.2,1553.2 1062.45,1551.72 1062.74,1550 1063.07,1548.08 1063.41,1545.98 1063.79,1543.73 1064.17,1541.37 1064.57,1538.92 1064.97,1536.41 1065.38,1533.89 1065.78,1531.36 1066.17,1528.87 1066.55,1526.45 1066.9,1524.12 1067.24,1521.91 1067.54,1519.86 1067.8,1518 1068.05,1516.16 1068.31,1514.18 1068.58,1512.07 1068.85,1509.86 1069.12,1507.56 1069.4,1505.21 1069.68,1502.81 1069.96,1500.39 1070.24,1497.98 1070.52,1495.58 1070.79,1493.23 1071.05,1490.93 1071.3,1488.72 1071.55,1486.62 1071.78,1484.64 1072,1482.8 1072.22,1480.96 1072.46,1478.99 1072.72,1476.88 1072.99,1474.68 1073.27,1472.39 1073.56,1470.05 1073.85,1467.66 1074.15,1465.25 1074.45,1462.84 1074.74,1460.45 1075.03,1458.11 1075.31,1455.82 1075.58,1453.62 1075.84,1451.51 1076.08,1449.54 1076.3,1447.7 1076.52,1445.86 1076.76,1443.88 1077.01,1441.77 1077.28,1439.56 1077.55,1437.27 1077.83,1434.91 1078.12,1432.52 1078.4,1430.1 1078.69,1427.68 1078.98,1425.29 1079.26,1422.93 1079.53,1420.64 1079.79,1418.43 1080.04,1416.32 1080.28,1414.34 1080.5,1412.5 1080.72,1410.66 1080.96,1408.67 1081.21,1406.55 1081.47,1404.33 1081.74,1402.02 1082.03,1399.65 1082.31,1397.24 1082.6,1394.81 1082.89,1392.39 1083.17,1389.99 1083.46,1387.64 1083.73,1385.36 1083.99,1383.18 1084.24,1381.11 1084.48,1379.17 1084.7,1377.4 1084.95,1375.36 1085.23,1373.12 1085.52,1370.71 1085.83,1368.19 1086.14,1365.59 1086.47,1362.94 1086.8,1360.29 1087.13,1357.68 1087.46,1355.14 1087.77,1352.72 1088.08,1350.46 1088.37,1348.39 1088.65,1346.56 1088.9,1345 1089.42,1342.16 1089.99,1339.33 1090.61,1336.59 1091.25,1334.02 1091.89,1331.69 1092.51,1329.69 1093.1,1328.1 1094.31,1325.69 1095.81,1323.48 1097.38,1321.82 1098.8,1321.1 1100.24,1321.5 1101.95,1322.78 1103.84,1324.61 1105.8,1326.7 1106.85,1327.9 1108.18,1329.53 1109.72,1331.46 1111.38,1333.57 1113.07,1335.72 1114.71,1337.79 1116.22,1339.65 1117.51,1341.16 1118.5,1342.2 1120.58,1345 1124,1343.8 1124.92,1343.03 1126.09,1341.89 1127.46,1340.45 1129.02,1338.75 1130.72,1336.87 1132.53,1334.84 1134.44,1332.73 1136.39,1330.6 1138.37,1328.49 1140.34,1326.46 1142.26,1324.58 1144.12,1322.89 1145.87,1321.45 1147.49,1320.32 1148.94,1319.55 1150.2,1319.2 1151.8,1319.4 1153.51,1320.25 1155.3,1321.63 1157.14,1323.43 1159.01,1325.53 1160.86,1327.81 1162.66,1330.16 1164.39,1332.47 1166.01,1334.61 1167.49,1336.47 1168.79,1337.94 1169.9,1338.9 1172.71,1340.07 1175.26,1340.06 1177.65,1339.51 1180,1339.1 1181.9,1338.9 1184.28,1338.54 1186.89,1338.14 1189.48,1337.78 1191.8,1337.6 1193.6,1337.7 1195.8,1338.33 1197.97,1339.43 1200.01,1341.04 1201.8,1343.2 1202.57,1344.53 1203.43,1346.27 1204.34,1348.33 1205.3,1350.62 1206.27,1353.04 1207.23,1355.5 1208.18,1357.91 1209.07,1360.17 1209.9,1362.2 1210.6,1363.87 1211.39,1365.79 1212.26,1367.9 1213.18,1370.15 1214.14,1372.48 1215.12,1374.85 1216.09,1377.2 1217.03,1379.49 1217.92,1381.65 1218.76,1383.64 1219.5,1385.4 1220.32,1387.3 1221.25,1389.37 1222.25,1391.58 1223.29,1393.87 1224.36,1396.21 1225.41,1398.56 1226.43,1400.86 1227.39,1403.08 1228.25,1405.18 1229,1407.1 1229.65,1408.88 1230.34,1410.86 1231.06,1413 1231.81,1415.27 1232.56,1417.62 1233.31,1420 1234.04,1422.38 1234.74,1424.72 1235.39,1426.96 1235.98,1429.07 1236.5,1431 1236.95,1432.8 1237.43,1434.8 1237.92,1436.97 1238.42,1439.27 1238.92,1441.65 1239.43,1444.09 1239.93,1446.53 1240.43,1448.94 1240.9,1451.28 1241.36,1453.52 1241.8,1455.6 1242.2,1457.5 1242.61,1459.4 1243.06,1461.5 1243.54,1463.75 1244.04,1466.12 1244.56,1468.57 1245.1,1471.06 1245.63,1473.55 1246.16,1476.01 1246.68,1478.39 1247.18,1480.66 1247.66,1482.78 1248.1,1484.7 1248.55,1486.62 1249.07,1488.74 1249.62,1491.01 1250.21,1493.39 1250.83,1495.85 1251.45,1498.35 1252.09,1500.85 1252.71,1503.31 1253.31,1505.69 1253.88,1507.96 1254.42,1510.08 1254.9,1512 1255.37,1513.93 1255.88,1516.06 1256.42,1518.35 1256.99,1520.75 1257.57,1523.23 1258.17,1525.74 1258.77,1528.24 1259.37,1530.7 1259.98,1533.06 1260.57,1535.3 1261.14,1537.36 1261.7,1539.2 1262.35,1541.18 1263.1,1543.34 1263.93,1545.63 1264.83,1548.01 1265.77,1550.44 1266.73,1552.87 1267.69,1555.27 1268.64,1557.6 1269.56,1559.81 1270.41,1561.85 1271.2,1563.7 1272.01,1565.57 1272.94,1567.66 1273.96,1569.92 1275.04,1572.29 1276.16,1574.71 1277.29,1577.11 1278.4,1579.44 1279.47,1581.63 1280.46,1583.63 1281.34,1585.37 1282.1,1586.8 1283.38,1588.98 1284.68,1590.98 1286.02,1592.84 1287.35,1594.6 1288.69,1596.3 1290,1598 1291.12,1599.48 1292.48,1601.27 1294,1603.27 1295.62,1605.36 1297.26,1607.43 1298.85,1609.36 1300.32,1611.06 1301.6,1612.4 1303.31,1613.93 1305.27,1615.47 1307.35,1616.97 1309.43,1618.34 1311.39,1619.54 1313.1,1620.5 1315.04,1621.48 1317.18,1622.42 1319.5,1623.29 1322.01,1624.03 1324.7,1624.6 1326.31,1624.84 1328.3,1625.07 1330.59,1625.31 1333.09,1625.53 1335.73,1625.74 1338.4,1625.92 1341.04,1626.08 1343.56,1626.2 1345.88,1626.27 1347.9,1626.3 1349.88,1626.27 1352.08,1626.18 1354.45,1626.04 1356.92,1625.86 1359.45,1625.65 1361.98,1625.43 1364.45,1625.21 1366.82,1624.99 1369.02,1624.78 1371,1624.6 1372.98,1624.4 1375.19,1624.16 1377.57,1623.87 1380.06,1623.57 1382.6,1623.26 1385.14,1622.96 1387.63,1622.69 1390.01,1622.46 1392.22,1622.29 1394.2,1622.2 1396.18,1622.2 1398.38,1622.27 1400.75,1622.4 1403.22,1622.57 1405.75,1622.76 1408.28,1622.96 1410.75,1623.14 1413.12,1623.29 1415.32,1623.38 1417.3,1623.4 1419.3,1623.36 1421.56,1623.28 1424.01,1623.16 1426.58,1623.02 1429.19,1622.85 1431.78,1622.65 1434.27,1622.43 1436.61,1622.2 1438.7,1621.95 1440.5,1621.7 1442.66,1621.29 1445.02,1620.74 1447.49,1620.09 1449.95,1619.39 1452.31,1618.68 1454.48,1618.02 1456.34,1617.44 1457.8,1617 1460.91,1616 1463.43,1615.08 1465,1614.5" fill="none" stroke="#ec14ec" stroke-width="5.4" stroke-linejoin="round" stroke-linecap="round"/>
<path d="M484.5,1781.1 484.6,1779.9 484.73,1778.41 484.89,1776.66 485.06,1774.67 485.25,1772.45 485.46,1770.04 485.68,1767.46 485.92,1764.72 486.17,1761.85 486.43,1758.87 486.69,1755.8 486.97,1752.66 487.24,1749.49 487.52,1746.29 487.8,1743.09 488.07,1739.92 488.35,1736.79 488.61,1733.73 488.87,1730.76 489.12,1727.9 489.37,1725.17 489.59,1722.59 489.8,1720.2 490,1718 490.19,1715.81 490.4,1713.42 490.62,1710.86 490.86,1708.15 491.1,1705.32 491.35,1702.37 491.61,1699.35 491.87,1696.25 492.14,1693.12 492.41,1689.97 492.69,1686.81 492.96,1683.68 493.23,1680.59 493.5,1677.57 493.76,1674.64 494.02,1671.81 494.27,1669.11 494.51,1666.57 494.74,1664.2 494.96,1662.02 495.17,1660.06 495.36,1658.34 495.54,1656.88 495.7,1655.7 497.33,1652.43 499,1656 500.48,1657.6 502.48,1659.98 505,1662 506.4,1662.7 508.15,1663.49 510.19,1664.33 512.46,1664.13 514.89,1666.73 517.43,1665.28 520,1667.9 521.58,1666.42 523.49,1668.64 525.69,1665.45 528.12,1669.58 530.7,1665.99 533.39,1668.95 536.12,1666.56 538.83,1669.21 541.46,1667.24 543.95,1669.01 546.25,1667.17 548.28,1670.19 550,1666.06 552.32,1669.59 554.8,1665.28 557.35,1667.45 559.9,1664.6 562.37,1666.59 564.7,1662.45 566.79,1665.6 568.59,1661.17 570,1663.79 572.97,1662 575.1,1666.86 577,1665.56 578.41,1669.29 580.1,1668.79 581.88,1673.02 583.58,1672.14 585,1677.99 586.37,1676.65 587.95,1682.14 589.56,1681.78 591.03,1687.4 592.2,1684.28 592.8,1687.14 593.38,1681.41 593.97,1681.06 594.56,1674.78 595.15,1674.42 595.75,1669.51 596.37,1669.9 597,1666.69 597.37,1670.08 597.8,1670.03 598.28,1674.34 598.8,1674.03 599.36,1679.35 599.94,1679.47 600.53,1685.15 601.14,1684.9 601.75,1691.1 602.35,1691.7 602.94,1696.53 603.51,1696.08 604.05,1700.44 604.55,1699.18 605,1702.51 605.42,1699.06 605.86,1700.52 606.32,1695.1 606.81,1695.61 607.31,1691.27 607.83,1689.96 608.35,1683.84 608.89,1683.93 609.43,1677.97 609.97,1676.96 610.51,1671.9 611.05,1671.59 611.58,1667.34 612.1,1666.47 612.61,1665.54 613.1,1665.4 613.49,1665.88 613.93,1666.84 614.4,1668.25 614.91,1670.04 615.44,1672.18 616,1674.61 616.59,1677.27 617.19,1680.13 617.8,1683.13 618.41,1686.22 619.03,1689.35 619.64,1692.48 620.25,1695.54 620.85,1698.5 621.43,1701.3 621.99,1703.89 622.52,1706.23 623.02,1708.26 623.49,1709.93 623.92,1711.19 624.3,1712 625.27,1712.72 626.26,1712.09 627.28,1710.39 628.29,1707.88 629.28,1704.81 630.25,1701.47 631.16,1698.11 632,1695 632.37,1693.52 632.78,1691.69 633.21,1689.56 633.67,1687.18 634.15,1684.59 634.64,1681.84 635.15,1678.99 635.66,1676.07 636.18,1673.13 636.7,1670.24 637.21,1667.42 637.72,1664.74 638.22,1662.24 638.7,1659.96 639.16,1657.96 639.6,1656.29 640.02,1654.98 640.4,1654.1 641.63,1653.42 643.05,1654.8 644.55,1657.46 646.03,1660.64 647.38,1663.54 648.5,1665.4 650.59,1667.36 652.82,1668.96 654.9,1670.2 657.35,1671.31 660.3,1672.43 662.9,1673.4 665.57,1673.7 668.61,1674.15 671,1676.6 671.43,1677.77 671.85,1679.23 672.27,1680.94 672.68,1682.9 673.08,1685.06 673.49,1687.41 673.88,1689.92 674.27,1692.56 674.66,1695.32 675.05,1698.16 675.42,1701.06 675.8,1704 676,1705.58 676.21,1707.37 676.43,1709.35 676.67,1711.51 676.93,1713.82 677.19,1716.27 677.46,1718.85 677.74,1721.53 678.03,1724.3 678.32,1727.14 678.62,1730.04 678.92,1732.97 679.22,1735.93 679.52,1738.89 679.82,1741.84 680.11,1744.76 680.4,1747.63 680.69,1750.44 680.97,1753.17 681.24,1755.8 681.5,1758.31 681.74,1760.69 681.98,1762.93 682.2,1765 682.42,1767.04 682.65,1769.21 682.89,1771.48 683.15,1773.84 683.41,1776.29 683.68,1778.8 683.95,1781.38 684.24,1784.01 684.52,1786.67 684.81,1789.35 685.1,1792.05 685.39,1794.74 685.69,1797.43 685.98,1800.1 686.27,1802.72 686.56,1805.31 686.84,1807.83 687.11,1810.29 687.38,1812.66 687.65,1814.94 687.9,1817.12 688.15,1819.18 688.38,1821.11 688.6,1822.9 688.86,1825.01 689.14,1827.22 689.43,1829.51 689.73,1831.88 690.04,1834.29 690.36,1836.75 690.68,1839.24 691.01,1841.74 691.35,1844.25 691.69,1846.74 692.03,1849.21 692.38,1851.63 692.73,1854.01 693.07,1856.31 693.42,1858.54 693.76,1860.68 694.11,1862.7 694.44,1864.61 694.77,1866.38 695.1,1868 695.57,1870.12 696.1,1872.36 696.7,1874.67 697.34,1877.05 698.02,1879.47 698.73,1881.9 699.45,1884.31 700.19,1886.68 700.92,1888.99 701.64,1891.21 702.34,1893.31 703,1895.28 703.62,1897.09 704.19,1898.7 704.7,1900.1 705.62,1902.57 706.6,1905.08 707.62,1907.56 708.67,1909.92 709.73,1912.04 710.78,1913.86 711.81,1915.28 712.8,1916.2 714.64,1916.86 716.93,1916.8 719.41,1916.1 721.85,1914.81 724,1913 724.94,1911.85 725.98,1910.31 727.12,1908.45 728.32,1906.35 729.57,1904.07 730.84,1901.67 732.13,1899.24 733.39,1896.84 734.62,1894.53 735.8,1892.4 736.9,1890.5 737.86,1888.92 738.95,1887.17 740.13,1885.27 741.4,1883.26 742.73,1881.16 744.1,1879.01 745.49,1876.83 746.87,1874.64 748.23,1872.49 749.55,1870.38 750.79,1868.37 751.95,1866.46 753,1864.7 753.91,1863.14 754.9,1861.38 755.98,1859.47 757.11,1857.43 758.29,1855.3 759.49,1853.1 760.71,1850.88 761.93,1848.66 763.12,1846.46 764.28,1844.34 765.39,1842.31 766.43,1840.41 767.39,1838.67 768.25,1837.12 769,1835.8 770.31,1833.5 771.66,1831.14 773.01,1828.8 774.33,1826.55 775.59,1824.44 776.76,1822.55 777.81,1820.95 778.7,1819.7 780.84,1818.12 782.96,1817.33 785.1,1814.9 785.69,1813.61 786.37,1811.84 787.13,1809.68 787.95,1807.24 788.82,1804.61 789.71,1801.89 790.62,1799.18 791.52,1796.58 792.41,1794.18 793.26,1792.09 794.06,1790.39 794.8,1789.2 796.77,1788.03 799.14,1788.24 801.66,1788.88 804.03,1788.98 806,1787.6 806.67,1786.36 807.37,1784.57 808.11,1782.35 808.87,1779.8 809.66,1777.01 810.45,1774.09 811.25,1771.14 812.04,1768.27 812.83,1765.58 813.59,1763.16 814.33,1761.12 815.03,1759.57 815.7,1758.6 817.27,1758.41 819.13,1760.03 821.14,1762.57 823.19,1765.12 825.15,1766.8 826.9,1766.7 827.69,1765.75 828.58,1764.16 829.54,1762.05 830.56,1759.55 831.63,1756.77 832.72,1753.84 833.82,1750.88 834.92,1748.02 836,1745.36 837.05,1743.04 838.04,1741.18 838.96,1739.89 839.8,1739.3 840.8,1739.62 841.91,1740.91 843.1,1742.95 844.35,1745.52 845.63,1748.41 846.93,1751.4 848.2,1754.27 849.43,1756.8 850.59,1758.78 851.65,1759.98 852.6,1760.2 853.31,1759.51 854.06,1758.07 854.84,1756.02 855.64,1753.48 856.47,1750.58 857.31,1747.46 858.16,1744.23 859.02,1741.03 859.87,1737.99 860.72,1735.24 861.55,1732.91 862.36,1731.12 863.15,1730.01 863.9,1729.7 864.55,1730.15 865.27,1731.2 866.05,1732.79 866.89,1734.83 867.77,1737.23 868.69,1739.92 869.63,1742.81 870.59,1745.82 871.56,1748.88 872.52,1751.89 873.47,1754.78 874.4,1757.47 875.3,1759.87 876.16,1761.91 876.97,1763.5 877.72,1764.55 878.4,1765 879.15,1764.68 879.94,1763.54 880.76,1761.72 881.61,1759.35 882.48,1756.57 883.37,1753.49 884.27,1750.25 885.17,1747 886.08,1743.84 886.98,1740.93 887.87,1738.38 888.74,1736.33 889.59,1734.91 890.41,1734.26 891.2,1734.5 891.7,1735.19 892.25,1736.33 892.84,1737.87 893.46,1739.78 894.12,1742 894.8,1744.52 895.5,1747.27 896.23,1750.23 896.97,1753.35 897.72,1756.6 898.48,1759.93 899.25,1763.29 900.01,1766.67 900.77,1770 901.52,1773.26 902.26,1776.39 902.99,1779.37 903.69,1782.15 904.38,1784.69 905.03,1786.95 905.66,1788.89 906.24,1790.48 906.79,1791.66 907.3,1792.4 908.21,1792.63 909.17,1791.6 910.15,1789.55 911.17,1786.71 912.19,1783.32 913.23,1779.63 914.28,1775.86 915.32,1772.25 916.34,1769.05 917.35,1766.48 918.34,1764.8 919.29,1764.22 920.2,1765 920.71,1766.1 921.26,1767.72 921.85,1769.82 922.48,1772.33 923.14,1775.23 923.83,1778.46 924.54,1781.99 925.27,1785.76 926.02,1789.72 926.78,1793.84 927.55,1798.07 928.32,1802.36 929.08,1806.67 929.84,1810.95 930.59,1815.15 931.33,1819.24 932.05,1823.16 932.75,1826.88 933.41,1830.33 934.05,1833.49 934.65,1836.3 935.21,1838.72 935.73,1840.7 936.2,1842.2 938.99,1845.37 941.88,1842.97 944.57,1839.54 946.8,1839.6 947.29,1840.62 947.79,1841.98 948.31,1843.66 948.85,1845.6 949.39,1847.78 949.94,1850.14 950.5,1852.65 951.06,1855.27 951.61,1857.96 952.17,1860.68 952.72,1863.39 953.26,1866.05 953.79,1868.62 954.31,1871.07 954.82,1873.34 955.3,1875.4 955.73,1877.15 956.21,1879.09 956.74,1881.21 957.3,1883.47 957.9,1885.85 958.52,1888.33 959.16,1890.88 959.81,1893.47 960.47,1896.08 961.13,1898.68 961.77,1901.24 962.4,1903.74 963.01,1906.16 963.59,1908.47 964.13,1910.63 964.63,1912.64 965.08,1914.45 965.47,1916.05 965.8,1917.4 966.52,1920.59 967.11,1923.49 967.6,1926.11 968.02,1928.44 968.43,1930.46 968.84,1932.19 969.3,1933.6 970.84,1936.27 972.76,1938.28 974.5,1939.4 977.38,1939.5 980.3,1938.2 981.64,1936.67 983.21,1934.38 984.74,1931.97 986,1930.1 987.56,1928.01 989.24,1925.87 990.7,1924.3 992.98,1922.72 995.3,1922 997.92,1922.96 1000.5,1924.9 1001.89,1926.89 1003.37,1929.63 1004.6,1932.4 1005.24,1934.29 1005.94,1936.69 1006.66,1939.31 1007.36,1941.85 1008,1944 1008.7,1946.1 1009.54,1948.55 1010.44,1951.11 1011.32,1953.53 1012.1,1955.6 1012.91,1957.68 1013.87,1960.11 1014.88,1962.6 1015.86,1964.86 1016.7,1966.6 1018.14,1968.99 1019.79,1971.23 1021.3,1972.9 1023.89,1974.75 1026.6,1975.8 1029.42,1975.38 1032.3,1974.1 1034.14,1972.63 1036.25,1970.54 1038.1,1968.3 1039.17,1966.67 1040.43,1964.55 1041.73,1962.21 1042.94,1959.9 1043.9,1957.9 1044.75,1955.89 1045.66,1953.51 1046.56,1950.97 1047.36,1948.5 1048,1946.3 1048.43,1944.61 1048.83,1942.81 1049.23,1940.82 1049.63,1938.57 1050.05,1935.99 1050.5,1933 1050.69,1931.65 1050.91,1930.03 1051.15,1928.18 1051.41,1926.13 1051.69,1923.91 1051.98,1921.56 1052.28,1919.11 1052.6,1916.6 1052.91,1914.04 1053.23,1911.49 1053.55,1908.97 1053.86,1906.51 1054.16,1904.15 1054.46,1901.93 1054.74,1899.86 1055,1898 1055.27,1896.18 1055.57,1894.22 1055.89,1892.16 1056.23,1890 1056.59,1887.77 1056.97,1885.47 1057.35,1883.13 1057.74,1880.76 1058.13,1878.38 1058.52,1876 1058.9,1873.65 1059.28,1871.34 1059.64,1869.08 1059.98,1866.89 1060.3,1864.79 1060.6,1862.8 1060.85,1861.08 1061.11,1859.19 1061.39,1857.16 1061.69,1855 1061.99,1852.73 1062.31,1850.37 1062.63,1847.94 1062.95,1845.46 1063.28,1842.95 1063.62,1840.44 1063.95,1837.93 1064.27,1835.45 1064.59,1833.03 1064.91,1830.67 1065.21,1828.4 1065.51,1826.24 1065.79,1824.2 1066.05,1822.32 1066.3,1820.6 1066.59,1818.62 1066.91,1816.56 1067.25,1814.42 1067.6,1812.22 1067.97,1809.97 1068.34,1807.68 1068.72,1805.37 1069.11,1803.05 1069.49,1800.73 1069.87,1798.42 1070.24,1796.13 1070.61,1793.88 1070.96,1791.68 1071.29,1789.54 1071.61,1787.48 1071.9,1785.5 1072.14,1783.77 1072.41,1781.84 1072.68,1779.75 1072.97,1777.51 1073.27,1775.15 1073.58,1772.69 1073.89,1770.16 1074.21,1767.59 1074.54,1765 1074.86,1762.41 1075.19,1759.84 1075.51,1757.33 1075.82,1754.9 1076.13,1752.57 1076.43,1750.36 1076.72,1748.31 1076.99,1746.43 1077.26,1744.75 1077.5,1743.3 1078.03,1740.51 1078.61,1737.77 1079.24,1735.12 1079.89,1732.57 1080.56,1730.15 1081.23,1727.88 1081.88,1725.78 1082.51,1723.88 1083.1,1722.2 1083.93,1720.07 1084.92,1717.78 1086.01,1715.45 1087.15,1713.2 1088.27,1711.14 1089.3,1709.4 1090.2,1708.1 1092.31,1706.03 1094.72,1704.65 1097.2,1703.9 1099.01,1703.74 1101.33,1703.77 1103.88,1703.96 1106.36,1704.25 1108.5,1704.6 1110.41,1705.31 1112.46,1706.44 1114.77,1707.6 1117.45,1708.39 1120.6,1708.4 1121.99,1708.09 1123.68,1707.54 1125.63,1706.79 1127.8,1705.9 1130.13,1704.91 1132.59,1703.85 1135.12,1702.77 1137.69,1701.71 1140.25,1700.71 1142.75,1699.82 1145.15,1699.08 1147.41,1698.54 1149.47,1698.23 1151.3,1698.2 1153.1,1698.49 1155.09,1699.07 1157.22,1699.91 1159.47,1700.95 1161.79,1702.16 1164.15,1703.48 1166.51,1704.87 1168.83,1706.28 1171.08,1707.67 1173.23,1709 1175.23,1710.21 1177.05,1711.26 1178.65,1712.11 1180,1712.7 1182.74,1713.46 1185.31,1713.76 1187.69,1713.79 1189.88,1713.72 1191.85,1713.76 1193.6,1714.1 1195.73,1714.98 1198.06,1716.24 1200.43,1717.73 1202.64,1719.32 1204.5,1720.9 1205.76,1722.16 1207.16,1723.73 1208.64,1725.51 1210.13,1727.42 1211.56,1729.38 1212.87,1731.3 1214,1733.1 1214.94,1734.79 1215.97,1736.81 1217.06,1739.06 1218.16,1741.47 1219.27,1743.94 1220.33,1746.37 1221.32,1748.69 1222.2,1750.8 1222.91,1752.52 1223.7,1754.48 1224.56,1756.63 1225.46,1758.92 1226.37,1761.29 1227.28,1763.7 1228.16,1766.08 1228.99,1768.4 1229.74,1770.59 1230.4,1772.6 1230.92,1774.3 1231.47,1776.2 1232.05,1778.26 1232.65,1780.45 1233.26,1782.73 1233.87,1785.07 1234.48,1787.45 1235.08,1789.81 1235.65,1792.13 1236.21,1794.38 1236.72,1796.51 1237.2,1798.5 1237.61,1800.25 1238.05,1802.23 1238.53,1804.38 1239.02,1806.68 1239.54,1809.08 1240.07,1811.57 1240.6,1814.09 1241.13,1816.61 1241.66,1819.1 1242.18,1821.52 1242.67,1823.83 1243.15,1826.01 1243.59,1828.01 1244,1829.8 1244.48,1831.84 1245.01,1834.02 1245.57,1836.32 1246.17,1838.71 1246.78,1841.15 1247.4,1843.61 1248.02,1846.05 1248.63,1848.46 1249.23,1850.79 1249.79,1853.01 1250.32,1855.09 1250.8,1857 1251.28,1858.93 1251.81,1861.05 1252.37,1863.34 1252.97,1865.74 1253.58,1868.22 1254.2,1870.74 1254.82,1873.24 1255.43,1875.7 1256.03,1878.06 1256.59,1880.3 1257.12,1882.36 1257.6,1884.2 1258.12,1886.18 1258.68,1888.32 1259.27,1890.6 1259.9,1892.96 1260.54,1895.37 1261.19,1897.8 1261.85,1900.19 1262.51,1902.52 1263.16,1904.74 1263.79,1906.81 1264.4,1908.7 1265.05,1910.61 1265.82,1912.74 1266.66,1915.03 1267.58,1917.44 1268.53,1919.91 1269.5,1922.4 1270.47,1924.84 1271.42,1927.2 1272.32,1929.41 1273.16,1931.43 1273.9,1933.2 1274.7,1935.06 1275.58,1937.05 1276.52,1939.12 1277.5,1941.25 1278.51,1943.4 1279.52,1945.56 1280.54,1947.69 1281.53,1949.76 1282.49,1951.74 1283.4,1953.6 1284.21,1955.25 1285.14,1957.15 1286.19,1959.27 1287.31,1961.53 1288.48,1963.89 1289.67,1966.28 1290.86,1968.63 1292.02,1970.91 1293.12,1973.04 1294.14,1974.97 1295.04,1976.65 1295.8,1978 1297.19,1980.28 1298.6,1982.39 1300.01,1984.32 1301.38,1986.06 1302.69,1987.59 1303.9,1988.9 1305.48,1990.4 1307.34,1991.95 1309.33,1993.46 1311.3,1994.81 1313.1,1995.9 1315.07,1996.88 1317.49,1997.9 1320.08,1998.89 1322.57,1999.79 1324.7,2000.5 1326.8,2001.14 1329.23,2001.82 1331.77,2002.47 1334.2,2003.02 1336.3,2003.4 1338.4,2003.66 1340.83,2003.86 1343.38,2003.99 1345.81,2004.04 1347.9,2004 1349.98,2003.8 1352.39,2003.45 1354.91,2003.02 1357.32,2002.58 1359.4,2002.2 1361.49,2001.82 1363.92,2001.35 1366.47,2000.85 1368.9,2000.38 1371,2000 1373.1,1999.64 1375.53,1999.23 1378.07,1998.82 1380.5,1998.46 1382.6,1998.2 1384.7,1998.01 1387.13,1997.83 1389.68,1997.68 1392.11,1997.6 1394.2,1997.6 1396.28,1997.72 1398.69,1997.96 1401.21,1998.26 1403.62,1998.56 1405.7,1998.8 1407.79,1999.04 1410.22,1999.34 1412.77,1999.64 1415.2,1999.88 1417.3,2000 1419.4,2000.01 1421.83,1999.96 1424.37,1999.84 1426.8,1999.65 1428.9,1999.4 1431,1999 1433.43,1998.42 1435.98,1997.76 1438.41,1997.08 1440.5,1996.5 1442.61,1995.91 1445.08,1995.19 1447.64,1994.42 1450.03,1993.67 1452,1993 1454.38,1992.04 1457.04,1990.87 1459.51,1989.74 1461.3,1988.9 1463.62,1987.75 1465,1987" fill="none" stroke="#000000" stroke-width="5.4" stroke-linejoin="round" stroke-linecap="round"/>
<rect x="224.5" y="117" width="1241" height="378.6" fill="none" stroke="#000" stroke-width="4.5"/>
<path d="M271.22,495.6v-11M271.22,117v11M363.04,495.6v-22M363.04,117v22M454.86,495.6v-11M454.86,117v11M546.68,495.6v-22M546.68,117v22M638.5,495.6v-11M638.5,117v11M730.32,495.6v-22M730.32,117v22M822.14,495.6v-11M822.14,117v11M913.96,495.6v-22M913.96,117v22M1005.78,495.6v-11M1005.78,117v11M1097.6,495.6v-22M1097.6,117v22M1189.42,495.6v-11M1189.42,117v11M1281.24,495.6v-22M1281.24,117v22M1373.06,495.6v-11M1373.06,117v11M224.5,438.81h11M1465.5,438.81h-11M224.5,382.02h22M1465.5,382.02h-22M224.5,325.23h11M1465.5,325.23h-11M224.5,268.44h22M1465.5,268.44h-22M224.5,211.65h11M1465.5,211.65h-11M224.5,154.86h22M1465.5,154.86h-22" stroke="#000" stroke-width="4.5" fill="none"/>
<rect x="224.5" y="495.6" width="1241" height="378.6" fill="none" stroke="#000" stroke-width="4.5"/>
<path d="M271.22,874.2v-11M363.04,874.2v-22M454.86,874.2v-11M546.68,874.2v-22M638.5,874.2v-11M730.32,874.2v-22M822.14,874.2v-11M913.96,874.2v-22M1005.78,874.2v-11M1097.6,874.2v-22M1189.42,874.2v-11M1281.24,874.2v-22M1373.06,874.2v-11M224.5,817.41h11M1465.5,817.41h-11M224.5,760.62h22M1465.5,760.62h-22M224.5,703.83h11M1465.5,703.83h-11M224.5,647.04h22M1465.5,647.04h-22M224.5,590.25h11M1465.5,590.25h-11M224.5,533.46h22M1465.5,533.46h-22" stroke="#000" stroke-width="4.5" fill="none"/>
<rect x="224.5" y="874.2" width="1241" height="378.6" fill="none" stroke="#000" stroke-width="4.5"/>
<path d="M271.22,1252.8v-11M363.04,1252.8v-22M454.86,1252.8v-11M546.68,1252.8v-22M638.5,1252.8v-11M730.32,1252.8v-22M822.14,1252.8v-11M913.96,1252.8v-22M1005.78,1252.8v-11M1097.6,1252.8v-22M1189.42,1252.8v-11M1281.24,1252.8v-22M1373.06,1252.8v-11M224.5,1196.01h11M1465.5,1196.01h-11M224.5,1139.22h22M1465.5,1139.22h-22M224.5,1082.43h11M1465.5,1082.43h-11M224.5,1025.64h22M1465.5,1025.64h-22M224.5,968.85h11M1465.5,968.85h-11M224.5,912.06h22M1465.5,912.06h-22" stroke="#000" stroke-width="4.5" fill="none"/>
<rect x="224.5" y="1252.8" width="1241" height="378.6" fill="none" stroke="#000" stroke-width="4.5"/>
<path d="M271.22,1631.4v-11M363.04,1631.4v-22M454.86,1631.4v-11M546.68,1631.4v-22M638.5,1631.4v-11M730.32,1631.4v-22M822.14,1631.4v-11M913.96,1631.4v-22M1005.78,1631.4v-11M1097.6,1631.4v-22M1189.42,1631.4v-11M1281.24,1631.4v-22M1373.06,1631.4v-11M224.5,1574.61h11M1465.5,1574.61h-11M224.5,1517.82h22M1465.5,1517.82h-22M224.5,1461.03h11M1465.5,1461.03h-11M224.5,1404.24h22M1465.5,1404.24h-22M224.5,1347.45h11M1465.5,1347.45h-11M224.5,1290.66h22M1465.5,1290.66h-22" stroke="#000" stroke-width="4.5" fill="none"/>
<rect x="224.5" y="1631.4" width="1241" height="378.6" fill="none" stroke="#000" stroke-width="4.5"/>
<path d="M271.22,2010v-11M363.04,2010v-22M454.86,2010v-11M546.68,2010v-22M638.5,2010v-11M730.32,2010v-22M822.14,2010v-11M913.96,2010v-22M1005.78,2010v-11M1097.6,2010v-22M1189.42,2010v-11M1281.24,2010v-22M1373.06,2010v-11M224.5,1953.21h11M1465.5,1953.21h-11M224.5,1896.42h22M1465.5,1896.42h-22M224.5,1839.63h11M1465.5,1839.63h-11M224.5,1782.84h22M1465.5,1782.84h-22M224.5,1726.05h11M1465.5,1726.05h-11M224.5,1669.26h22M1465.5,1669.26h-22" stroke="#000" stroke-width="4.5" fill="none"/>
<line x1="713.2" y1="110.05" x2="713.2" y2="2022.8" stroke="#a8252f" stroke-width="5.6" stroke-dasharray="5.5 7.3"/>
<rect x="224.5" y="398" width="446" height="99.7" fill="#fff" stroke="#6e6e6e" stroke-width="2.6"/>
<line x1="230" y1="441.2" x2="377" y2="441.2" stroke="#000000" stroke-width="4.6"/>
<text x="393.34" y="463.7" font-family="'Liberation Sans', Arial, sans-serif" font-size="64.0">t</text>
<text x="409.38" y="478.8" font-family="'Liberation Sans', Arial, sans-serif" font-size="45">p</text>
<text x="450.6" y="463.7" font-family="'Liberation Sans', Arial, sans-serif" font-size="64.0">= 0 min</text>
<rect x="224.5" y="772.7" width="447" height="100.3" fill="#fff" stroke="#3a3a3a" stroke-width="2.6"/>
<line x1="230" y1="816.2" x2="377" y2="816.2" stroke="#1ee61e" stroke-width="4.6"/>
<text x="393.34" y="837.6" font-family="'Liberation Sans', Arial, sans-serif" font-size="64.0">t</text>
<text x="409.38" y="852.7" font-family="'Liberation Sans', Arial, sans-serif" font-size="45">p</text>
<text x="450.6" y="837.6" font-family="'Liberation Sans', Arial, sans-serif" font-size="64.0">= 5 min</text>
<rect x="224.5" y="1154.4" width="482" height="100.3" fill="#fff" stroke="#3a3a3a" stroke-width="2.6"/>
<line x1="230" y1="1199.2" x2="377" y2="1199.2" stroke="#1010d8" stroke-width="4.6"/>
<text x="393.34" y="1220.3" font-family="'Liberation Sans', Arial, sans-serif" font-size="64.0">t</text>
<text x="409.38" y="1235.4" font-family="'Liberation Sans', Arial, sans-serif" font-size="45">p</text>
<text x="450.6" y="1220.3" font-family="'Liberation Sans', Arial, sans-serif" font-size="64.0">= 10 min</text>
<rect x="224.5" y="1530.7" width="482" height="100.7" fill="#fff" stroke="#3a3a3a" stroke-width="2.6"/>
<line x1="230" y1="1573.5" x2="377" y2="1573.5" stroke="#ec14ec" stroke-width="4.6"/>
<text x="393.34" y="1594.2" font-family="'Liberation Sans', Arial, sans-serif" font-size="64.0">t</text>
<text x="409.38" y="1609.3" font-family="'Liberation Sans', Arial, sans-serif" font-size="45">p</text>
<text x="450.6" y="1594.2" font-family="'Liberation Sans', Arial, sans-serif" font-size="64.0">= 30 min</text>
<rect x="224.5" y="1909.4" width="482" height="101" fill="#fff" stroke="#3a3a3a" stroke-width="2.6"/>
<line x1="230" y1="1952.9" x2="377" y2="1952.9" stroke="#000000" stroke-width="4.6"/>
<text x="393.34" y="1974.3" font-family="'Liberation Sans', Arial, sans-serif" font-size="64.0">t</text>
<text x="409.38" y="1989.4" font-family="'Liberation Sans', Arial, sans-serif" font-size="45">p</text>
<text x="450.6" y="1974.3" font-family="'Liberation Sans', Arial, sans-serif" font-size="64.0">= 50 min</text>
<text transform="translate(363.04,78) scale(1,1.027)" text-anchor="middle" font-family="'Liberation Sans', Arial, sans-serif" font-size="51.8">1000</text>
<text transform="translate(363.04,2075.8) scale(1,1.027)" text-anchor="middle" font-family="'Liberation Sans', Arial, sans-serif" font-size="51.8">1000</text>
<text transform="translate(546.68,78) scale(1,1.027)" text-anchor="middle" font-family="'Liberation Sans', Arial, sans-serif" font-size="51.8">2000</text>
<text transform="translate(546.68,2075.8) scale(1,1.027)" text-anchor="middle" font-family="'Liberation Sans', Arial, sans-serif" font-size="51.8">2000</text>
<text transform="translate(730.32,78) scale(1,1.027)" text-anchor="middle" font-family="'Liberation Sans', Arial, sans-serif" font-size="51.8">3000</text>
<text transform="translate(730.32,2075.8) scale(1,1.027)" text-anchor="middle" font-family="'Liberation Sans', Arial, sans-serif" font-size="51.8">3000</text>
<text transform="translate(913.96,78) scale(1,1.027)" text-anchor="middle" font-family="'Liberation Sans', Arial, sans-serif" font-size="51.8">4000</text>
<text transform="translate(913.96,2075.8) scale(1,1.027)" text-anchor="middle" font-family="'Liberation Sans', Arial, sans-serif" font-size="51.8">4000</text>
<text transform="translate(1097.6,78) scale(1,1.027)" text-anchor="middle" font-family="'Liberation Sans', Arial, sans-serif" font-size="51.8">5000</text>
<text transform="translate(1097.6,2075.8) scale(1,1.027)" text-anchor="middle" font-family="'Liberation Sans', Arial, sans-serif" font-size="51.8">5000</text>
<text transform="translate(1281.24,78) scale(1,1.027)" text-anchor="middle" font-family="'Liberation Sans', Arial, sans-serif" font-size="51.8">6000</text>
<text transform="translate(1281.24,2075.8) scale(1,1.027)" text-anchor="middle" font-family="'Liberation Sans', Arial, sans-serif" font-size="51.8">6000</text>
<text transform="translate(1464.88,78) scale(1,1.027)" text-anchor="middle" font-family="'Liberation Sans', Arial, sans-serif" font-size="51.8">7000</text>
<text transform="translate(1464.88,2075.8) scale(1,1.027)" text-anchor="middle" font-family="'Liberation Sans', Arial, sans-serif" font-size="51.8">7000</text>
<text transform="translate(211.2,176.48) scale(1,1.043)" text-anchor="end" font-family="'Liberation Sans', Arial, sans-serif" font-size="54.7">0.9</text>
<text transform="translate(211.2,281.28) scale(1,1.043)" text-anchor="end" font-family="'Liberation Sans', Arial, sans-serif" font-size="54.7">0.6</text>
<text transform="translate(211.2,396.58) scale(1,1.043)" text-anchor="end" font-family="'Liberation Sans', Arial, sans-serif" font-size="54.7">0.3</text>
<text transform="translate(211.2,504.68) scale(1,1.043)" text-anchor="end" font-family="'Liberation Sans', Arial, sans-serif" font-size="54.7">0.0</text>
<text transform="translate(211.2,548.68) scale(1,1.043)" text-anchor="end" font-family="'Liberation Sans', Arial, sans-serif" font-size="54.7">0.9</text>
<text transform="translate(211.2,660.68) scale(1,1.043)" text-anchor="end" font-family="'Liberation Sans', Arial, sans-serif" font-size="54.7">0.6</text>
<text transform="translate(211.2,772.48) scale(1,1.043)" text-anchor="end" font-family="'Liberation Sans', Arial, sans-serif" font-size="54.7">0.3</text>
<text transform="translate(211.2,884.18) scale(1,1.043)" text-anchor="end" font-family="'Liberation Sans', Arial, sans-serif" font-size="54.7">0.0</text>
<text transform="translate(211.2,931.98) scale(1,1.043)" text-anchor="end" font-family="'Liberation Sans', Arial, sans-serif" font-size="54.7">0.9</text>
<text transform="translate(211.2,1040.88) scale(1,1.043)" text-anchor="end" font-family="'Liberation Sans', Arial, sans-serif" font-size="54.7">0.6</text>
<text transform="translate(211.2,1156.18) scale(1,1.043)" text-anchor="end" font-family="'Liberation Sans', Arial, sans-serif" font-size="54.7">0.3</text>
<text transform="translate(211.2,1266.48) scale(1,1.043)" text-anchor="end" font-family="'Liberation Sans', Arial, sans-serif" font-size="54.7">0.0</text>
<text transform="translate(211.2,1307.38) scale(1,1.043)" text-anchor="end" font-family="'Liberation Sans', Arial, sans-serif" font-size="54.7">0.9</text>
<text transform="translate(211.2,1415.48) scale(1,1.043)" text-anchor="end" font-family="'Liberation Sans', Arial, sans-serif" font-size="54.7">0.6</text>
<text transform="translate(211.2,1535.18) scale(1,1.043)" text-anchor="end" font-family="'Liberation Sans', Arial, sans-serif" font-size="54.7">0.3</text>
<text transform="translate(211.2,1646.98) scale(1,1.043)" text-anchor="end" font-family="'Liberation Sans', Arial, sans-serif" font-size="54.7">0.0</text>
<text transform="translate(211.2,1689.68) scale(1,1.043)" text-anchor="end" font-family="'Liberation Sans', Arial, sans-serif" font-size="54.7">0.9</text>
<text transform="translate(211.2,1799.48) scale(1,1.043)" text-anchor="end" font-family="'Liberation Sans', Arial, sans-serif" font-size="54.7">0.6</text>
<text transform="translate(211.2,1914.68) scale(1,1.043)" text-anchor="end" font-family="'Liberation Sans', Arial, sans-serif" font-size="54.7">0.3</text>
<text transform="translate(211.2,2025.98) scale(1,1.043)" text-anchor="end" font-family="'Liberation Sans', Arial, sans-serif" font-size="54.7">0.0</text>
<text x="597.5" y="2160" font-family="'Liberation Sans', Arial, sans-serif" font-size="63.8">Wavelength [nm]</text>
<text transform="translate(82.8,938.8) rotate(-90)" text-anchor="middle" font-family="'Liberation Sans', Arial, sans-serif" font-size="75">Transmission</text>
<text transform="translate(940.16,411.7) scale(1.078,1)" font-family="'Noto Serif CJK SC', 'Liberation Serif', serif" font-style="italic" font-size="53.54">λ</text>
<text transform="translate(980.21,386.3) scale(1.044,1)" font-family="'Liberation Serif', 'Times New Roman', serif" font-style="italic" font-size="40.46">II</text>
<text transform="translate(980.17,429.5) scale(1.029,1)" font-family="'Liberation Serif', 'Times New Roman', serif" font-style="italic" font-size="42.44">1</text>
<text transform="translate(1085.68,461.7) scale(1.134,1)" font-family="'Noto Serif CJK SC', 'Liberation Serif', serif" font-style="italic" font-size="53.66">λ</text>
<text transform="translate(1125.73,437) scale(1.100,1)" font-family="'Liberation Serif', 'Times New Roman', serif" font-style="italic" font-size="46.15">I</text>
<text transform="translate(1123.21,480.8) scale(1.120,1)" font-family="'Liberation Serif', 'Times New Roman', serif" font-style="italic" font-size="47.02">1</text>
<text transform="translate(932.6,809.21) scale(1.137,1)" font-family="'Noto Serif CJK SC', 'Liberation Serif', serif" font-style="italic" font-size="52.93">λ</text>
<text transform="translate(971.33,783.5) scale(1.046,1)" font-family="'Liberation Serif', 'Times New Roman', serif" font-style="italic" font-size="43.23">II</text>
<text transform="translate(971.45,827.7) scale(1.120,1)" font-family="'Liberation Serif', 'Times New Roman', serif" font-style="italic" font-size="44.12">1</text>
<text transform="translate(1078.1,838.18) scale(1.097,1)" font-family="'Noto Serif CJK SC', 'Liberation Serif', serif" font-style="italic" font-size="54.88">λ</text>
<text transform="translate(1117.88,812.4) scale(1.100,1)" font-family="'Liberation Serif', 'Times New Roman', serif" font-style="italic" font-size="45.69">I</text>
<text transform="translate(1116.15,855) scale(1.120,1)" font-family="'Liberation Serif', 'Times New Roman', serif" font-style="italic" font-size="44.12">1</text>
<text transform="translate(930.2,1200.49) scale(1.116,1)" font-family="'Noto Serif CJK SC', 'Liberation Serif', serif" font-style="italic" font-size="53.9">λ</text>
<text transform="translate(968.14,1174) scale(1.094,1)" font-family="'Liberation Serif', 'Times New Roman', serif" font-style="italic" font-size="43.38">II</text>
<text transform="translate(969.43,1218.2) scale(1.106,1)" font-family="'Liberation Serif', 'Times New Roman', serif" font-style="italic" font-size="43.05">1</text>
<text transform="translate(1070.1,1234.21) scale(1.134,1)" font-family="'Noto Serif CJK SC', 'Liberation Serif', serif" font-style="italic" font-size="52.93">λ</text>
<text transform="translate(1108.07,1209.3) scale(1.100,1)" font-family="'Liberation Serif', 'Times New Roman', serif" font-style="italic" font-size="44.46">I</text>
<text transform="translate(1112.59,1251) scale(0.900,1)" font-family="'Liberation Serif', 'Times New Roman', serif" font-style="italic" font-size="43.97">1</text>
<text transform="translate(911,1595.79) scale(1.114,1)" font-family="'Noto Serif CJK SC', 'Liberation Serif', serif" font-style="italic" font-size="54.02">λ</text>
<text x="948.91" y="1569.2" font-family="'Liberation Serif', 'Times New Roman', serif" font-style="italic" font-size="43.23">II</text>
<text transform="translate(950.23,1613.4) scale(1.079,1)" font-family="'Liberation Serif', 'Times New Roman', serif" font-style="italic" font-size="44.12">1</text>
<text x="1063.87" y="1609.39" font-family="'Noto Serif CJK SC', 'Liberation Serif', serif" font-style="italic" font-size="53.9">λ</text>
<text transform="translate(1101.32,1583.7) scale(1.100,1)" font-family="'Liberation Serif', 'Times New Roman', serif" font-style="italic" font-size="44.46">I</text>
<text transform="translate(1104.69,1627.1) scale(0.977,1)" font-family="'Liberation Serif', 'Times New Roman', serif" font-style="italic" font-size="44.12">1</text>
<text transform="translate(891.8,1976.59) scale(1.116,1)" font-family="'Noto Serif CJK SC', 'Liberation Serif', serif" font-style="italic" font-size="53.9">λ</text>
<text x="928.93" y="1950.8" font-family="'Liberation Serif', 'Times New Roman', serif" font-style="italic" font-size="44.46">II</text>
<text transform="translate(931.03,1995) scale(1.050,1)" font-family="'Liberation Serif', 'Times New Roman', serif" font-style="italic" font-size="45.34">1</text>
<text transform="translate(1052.6,1984.59) scale(1.113,1)" font-family="'Noto Serif CJK SC', 'Liberation Serif', serif" font-style="italic" font-size="53.9">λ</text>
<text transform="translate(1092.84,1958.9) scale(1.100,1)" font-family="'Liberation Serif', 'Times New Roman', serif" font-style="italic" font-size="43.38">I</text>
<text transform="translate(1090.95,2003.1) scale(1.096,1)" font-family="'Liberation Serif', 'Times New Roman', serif" font-style="italic" font-size="45.5">1</text>
</svg></body></html>
